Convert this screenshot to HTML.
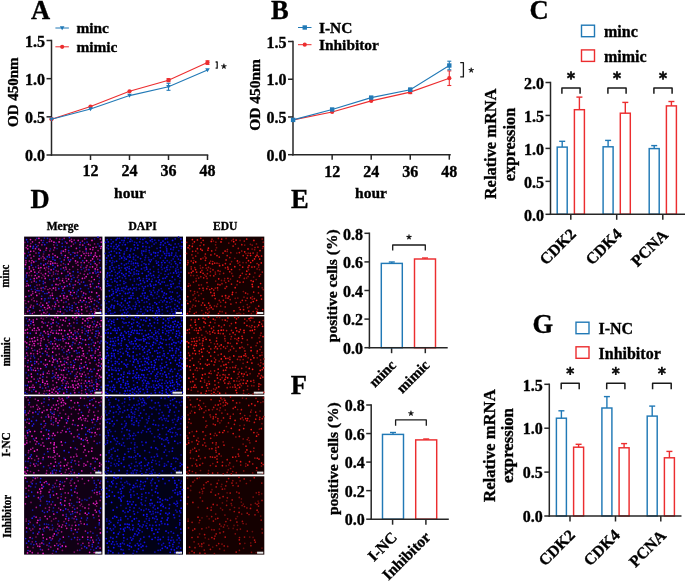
<!DOCTYPE html>
<html><head><meta charset="utf-8"><style>html,body{margin:0;padding:0;background:#fff;width:685px;height:581px;overflow:hidden}svg{display:block;will-change:transform}text{stroke:#000;stroke-width:.35px}</style></head>
<body><svg width="685" height="581" viewBox="0 0 685 581" font-family="&apos;Liberation Serif&apos;, serif" font-weight="bold"><line x1="51.5" y1="39.75" x2="51.5" y2="155.75" stroke="#262626" stroke-width="1.5"/><line x1="50.75" y1="155" x2="208.25" y2="155" stroke="#262626" stroke-width="1.5"/><line x1="46.5" y1="155.0" x2="51.5" y2="155.0" stroke="#262626" stroke-width="1.5"/><text x="45.0" y="161.2" font-size="16" text-anchor="end" fill="#000">0.0</text><line x1="46.5" y1="116.83333333333334" x2="51.5" y2="116.83333333333334" stroke="#262626" stroke-width="1.5"/><text x="45.0" y="123.03333333333335" font-size="16" text-anchor="end" fill="#000">0.5</text><line x1="46.5" y1="78.66666666666667" x2="51.5" y2="78.66666666666667" stroke="#262626" stroke-width="1.5"/><text x="45.0" y="84.86666666666667" font-size="16" text-anchor="end" fill="#000">1.0</text><line x1="46.5" y1="40.5" x2="51.5" y2="40.5" stroke="#262626" stroke-width="1.5"/><text x="45.0" y="46.7" font-size="16" text-anchor="end" fill="#000">1.5</text><line x1="90.5" y1="155" x2="90.5" y2="160" stroke="#262626" stroke-width="1.5"/><text x="90.5" y="175.6" font-size="16" text-anchor="middle" fill="#000">12</text><line x1="129.5" y1="155" x2="129.5" y2="160" stroke="#262626" stroke-width="1.5"/><text x="129.5" y="175.6" font-size="16" text-anchor="middle" fill="#000">24</text><line x1="168.5" y1="155" x2="168.5" y2="160" stroke="#262626" stroke-width="1.5"/><text x="168.5" y="175.6" font-size="16" text-anchor="middle" fill="#000">36</text><line x1="207.5" y1="155" x2="207.5" y2="160" stroke="#262626" stroke-width="1.5"/><text x="207.5" y="175.6" font-size="16" text-anchor="middle" fill="#000">48</text><text x="31" y="18.8" font-size="26.5" text-anchor="start" fill="#000">A</text><text x="18.3" y="92.2" font-size="15" text-anchor="middle" fill="#000" transform="rotate(-90 18.3 92.2)">OD 450nm</text><text x="130" y="198" font-size="15.5" text-anchor="middle" fill="#000">hour</text><polyline points="51.5,119.2 90.5,106.5 129.5,91.3 168.5,80.2 207.5,62.6" stroke="#ec2d2f" stroke-width="1.1" fill="none"/><circle cx="51.5" cy="119.2" r="2.1" fill="#ec2d2f"/><circle cx="90.5" cy="106.5" r="2.1" fill="#ec2d2f"/><circle cx="129.5" cy="91.3" r="2.1" fill="#ec2d2f"/><line x1="168.5" y1="78.7" x2="168.5" y2="81.7" stroke="#ec2d2f" stroke-width="1.1"/><line x1="166.5" y1="78.7" x2="170.5" y2="78.7" stroke="#ec2d2f" stroke-width="1.1"/><line x1="166.5" y1="81.7" x2="170.5" y2="81.7" stroke="#ec2d2f" stroke-width="1.1"/><circle cx="168.5" cy="80.2" r="2.1" fill="#ec2d2f"/><line x1="207.5" y1="60.800000000000004" x2="207.5" y2="64.4" stroke="#ec2d2f" stroke-width="1.1"/><line x1="205.5" y1="60.800000000000004" x2="209.5" y2="60.800000000000004" stroke="#ec2d2f" stroke-width="1.1"/><line x1="205.5" y1="64.4" x2="209.5" y2="64.4" stroke="#ec2d2f" stroke-width="1.1"/><circle cx="207.5" cy="62.6" r="2.1" fill="#ec2d2f"/><polyline points="51.5,119.2 90.5,109.0 129.5,95.6 168.5,86.8 207.5,70.0" stroke="#2179b6" stroke-width="1.1" fill="none"/><polygon points="49.2,117.4 53.8,117.4 51.5,121.4" fill="#2179b6"/><polygon points="88.2,107.2 92.8,107.2 90.5,111.2" fill="#2179b6"/><polygon points="127.2,93.8 131.8,93.8 129.5,97.8" fill="#2179b6"/><line x1="168.5" y1="83.3" x2="168.5" y2="90.3" stroke="#2179b6" stroke-width="1.1"/><line x1="166.5" y1="83.3" x2="170.5" y2="83.3" stroke="#2179b6" stroke-width="1.1"/><line x1="166.5" y1="90.3" x2="170.5" y2="90.3" stroke="#2179b6" stroke-width="1.1"/><polygon points="166.2,85.0 170.8,85.0 168.5,89.0" fill="#2179b6"/><polygon points="205.2,68.2 209.8,68.2 207.5,72.2" fill="#2179b6"/><line x1="55.4" y1="28.0" x2="68.9" y2="28.0" stroke="#2179b6" stroke-width="1.0"/><polygon points="59.85,26.2 64.45,26.2 62.15,30.2" fill="#2179b6"/><text x="76.4" y="33.4" font-size="15.4" text-anchor="start" fill="#000">minc</text><line x1="55.4" y1="46.8" x2="68.9" y2="46.8" stroke="#ec2d2f" stroke-width="1.0"/><circle cx="62.15" cy="46.8" r="2.1" fill="#ec2d2f"/><text x="76.4" y="52.199999999999996" font-size="15.4" text-anchor="start" fill="#000">mimic</text><path d="M215.6 62.0H217.2V68.2H215.6" stroke="#1a1a1a" stroke-width="1.3" fill="none" stroke-linejoin="round"/><path d="M223.90 66.40L223.90 64.20M223.90 66.40L225.99 65.72M223.90 66.40L225.19 68.18M223.90 66.40L222.61 68.18M223.90 66.40L221.81 65.72" stroke="#111" stroke-width="1.2" stroke-linecap="round" fill="none"/><line x1="293" y1="40.75" x2="293" y2="155.45" stroke="#262626" stroke-width="1.5"/><line x1="292.25" y1="154.7" x2="450.75" y2="154.7" stroke="#262626" stroke-width="1.5"/><line x1="288" y1="154.7" x2="293" y2="154.7" stroke="#262626" stroke-width="1.5"/><text x="286.5" y="160.89999999999998" font-size="16" text-anchor="end" fill="#000">0.0</text><line x1="288" y1="116.96666666666667" x2="293" y2="116.96666666666667" stroke="#262626" stroke-width="1.5"/><text x="286.5" y="123.16666666666667" font-size="16" text-anchor="end" fill="#000">0.5</text><line x1="288" y1="79.23333333333333" x2="293" y2="79.23333333333333" stroke="#262626" stroke-width="1.5"/><text x="286.5" y="85.43333333333334" font-size="16" text-anchor="end" fill="#000">1.0</text><line x1="288" y1="41.5" x2="293" y2="41.5" stroke="#262626" stroke-width="1.5"/><text x="286.5" y="47.7" font-size="16" text-anchor="end" fill="#000">1.5</text><line x1="332.148" y1="154.7" x2="332.148" y2="159.7" stroke="#262626" stroke-width="1.5"/><text x="332.148" y="176.6" font-size="16" text-anchor="middle" fill="#000">12</text><line x1="371.196" y1="154.7" x2="371.196" y2="159.7" stroke="#262626" stroke-width="1.5"/><text x="371.196" y="176.6" font-size="16" text-anchor="middle" fill="#000">24</text><line x1="410.244" y1="154.7" x2="410.244" y2="159.7" stroke="#262626" stroke-width="1.5"/><text x="410.244" y="176.6" font-size="16" text-anchor="middle" fill="#000">36</text><line x1="449.29200000000003" y1="154.7" x2="449.29200000000003" y2="159.7" stroke="#262626" stroke-width="1.5"/><text x="449.29200000000003" y="176.6" font-size="16" text-anchor="middle" fill="#000">48</text><text x="271" y="19" font-size="26.5" text-anchor="start" fill="#000">B</text><text x="260.3" y="94.9" font-size="15.5" text-anchor="middle" fill="#000" transform="rotate(-90 260.3 94.9)">OD 450nm</text><text x="371" y="198" font-size="15.5" text-anchor="middle" fill="#000">hour</text><polyline points="293.1,119.9 332.148,112.0 371.196,100.9 410.244,92.1 449.29200000000003,78.2" stroke="#ec2d2f" stroke-width="1.1" fill="none"/><circle cx="293.1" cy="119.9" r="2.1" fill="#ec2d2f"/><circle cx="332.148" cy="112.0" r="2.1" fill="#ec2d2f"/><circle cx="371.196" cy="100.9" r="2.1" fill="#ec2d2f"/><line x1="410.244" y1="90.6" x2="410.244" y2="93.6" stroke="#ec2d2f" stroke-width="1.1"/><line x1="408.244" y1="90.6" x2="412.244" y2="90.6" stroke="#ec2d2f" stroke-width="1.1"/><line x1="408.244" y1="93.6" x2="412.244" y2="93.6" stroke="#ec2d2f" stroke-width="1.1"/><circle cx="410.244" cy="92.1" r="2.1" fill="#ec2d2f"/><line x1="449.29200000000003" y1="70.9" x2="449.29200000000003" y2="85.5" stroke="#ec2d2f" stroke-width="1.1"/><line x1="447.29200000000003" y1="70.9" x2="451.29200000000003" y2="70.9" stroke="#ec2d2f" stroke-width="1.1"/><line x1="447.29200000000003" y1="85.5" x2="451.29200000000003" y2="85.5" stroke="#ec2d2f" stroke-width="1.1"/><circle cx="449.29200000000003" cy="78.2" r="2.1" fill="#ec2d2f"/><polyline points="293.1,119.9 332.148,109.5 371.196,97.6 410.244,89.7 449.29200000000003,65.5" stroke="#2179b6" stroke-width="1.1" fill="none"/><rect x="290.90000000000003" y="117.7" width="4.4" height="4.4" fill="#2179b6"/><rect x="329.94800000000004" y="107.3" width="4.4" height="4.4" fill="#2179b6"/><rect x="368.99600000000004" y="95.39999999999999" width="4.4" height="4.4" fill="#2179b6"/><line x1="410.244" y1="88.2" x2="410.244" y2="91.2" stroke="#2179b6" stroke-width="1.1"/><line x1="408.244" y1="88.2" x2="412.244" y2="88.2" stroke="#2179b6" stroke-width="1.1"/><line x1="408.244" y1="91.2" x2="412.244" y2="91.2" stroke="#2179b6" stroke-width="1.1"/><rect x="408.04400000000004" y="87.5" width="4.4" height="4.4" fill="#2179b6"/><line x1="449.29200000000003" y1="61.2" x2="449.29200000000003" y2="69.8" stroke="#2179b6" stroke-width="1.1"/><line x1="447.29200000000003" y1="61.2" x2="451.29200000000003" y2="61.2" stroke="#2179b6" stroke-width="1.1"/><line x1="447.29200000000003" y1="69.8" x2="451.29200000000003" y2="69.8" stroke="#2179b6" stroke-width="1.1"/><rect x="447.09200000000004" y="63.3" width="4.4" height="4.4" fill="#2179b6"/><line x1="298" y1="27.5" x2="311.5" y2="27.5" stroke="#2179b6" stroke-width="1.0"/><rect x="302.55" y="25.3" width="4.4" height="4.4" fill="#2179b6"/><text x="319" y="32.9" font-size="15.4" text-anchor="start" fill="#000">I-NC</text><line x1="298" y1="44.7" x2="311.5" y2="44.7" stroke="#ec2d2f" stroke-width="1.0"/><circle cx="304.75" cy="44.7" r="2.1" fill="#ec2d2f"/><text x="319" y="50.1" font-size="15.4" text-anchor="start" fill="#000">Inhibitor</text><path d="M460.2 62.7H463.4V76.9H460.2" stroke="#1a1a1a" stroke-width="1.3" fill="none" stroke-linejoin="round"/><path d="M471.20 70.20L471.20 68.00M471.20 70.20L473.29 69.52M471.20 70.20L472.49 71.98M471.20 70.20L469.91 71.98M471.20 70.20L469.11 69.52" stroke="#111" stroke-width="1.2" stroke-linecap="round" fill="none"/><line x1="545.5" y1="214.3" x2="550.5" y2="214.3" stroke="#262626" stroke-width="1.5"/><text x="544.0" y="220.5" font-size="16" text-anchor="end" fill="#000">0.0</text><line x1="545.5" y1="181.35000000000002" x2="550.5" y2="181.35000000000002" stroke="#262626" stroke-width="1.5"/><text x="544.0" y="187.55" font-size="16" text-anchor="end" fill="#000">0.5</text><line x1="545.5" y1="148.4" x2="550.5" y2="148.4" stroke="#262626" stroke-width="1.5"/><text x="544.0" y="154.6" font-size="16" text-anchor="end" fill="#000">1.0</text><line x1="545.5" y1="115.45" x2="550.5" y2="115.45" stroke="#262626" stroke-width="1.5"/><text x="544.0" y="121.65" font-size="16" text-anchor="end" fill="#000">1.5</text><line x1="545.5" y1="82.5" x2="550.5" y2="82.5" stroke="#262626" stroke-width="1.5"/><text x="544.0" y="88.7" font-size="16" text-anchor="end" fill="#000">2.0</text><line x1="570.8" y1="214.3" x2="570.8" y2="219.8" stroke="#262626" stroke-width="1.5"/><line x1="616.7" y1="214.3" x2="616.7" y2="219.8" stroke="#262626" stroke-width="1.5"/><line x1="662.8" y1="214.3" x2="662.8" y2="219.8" stroke="#262626" stroke-width="1.5"/><line x1="562.1999999999999" y1="147.1" x2="562.1999999999999" y2="141.3" stroke="#2179b6" stroke-width="1.4"/><line x1="559.1999999999999" y1="141.3" x2="565.1999999999999" y2="141.3" stroke="#2179b6" stroke-width="1.4"/><rect x="557.1999999999999" y="147.1" width="10" height="67.20000000000002" fill="none" stroke="#2179b6" stroke-width="1.45"/><line x1="579.4" y1="109.7" x2="579.4" y2="97.1" stroke="#ec2d2f" stroke-width="1.4"/><line x1="576.4" y1="97.1" x2="582.4" y2="97.1" stroke="#ec2d2f" stroke-width="1.4"/><rect x="574.4" y="109.7" width="10" height="104.60000000000001" fill="none" stroke="#ec2d2f" stroke-width="1.45"/><line x1="608.1" y1="146.8" x2="608.1" y2="140.4" stroke="#2179b6" stroke-width="1.4"/><line x1="605.1" y1="140.4" x2="611.1" y2="140.4" stroke="#2179b6" stroke-width="1.4"/><rect x="603.1" y="146.8" width="10" height="67.5" fill="none" stroke="#2179b6" stroke-width="1.45"/><line x1="625.3000000000001" y1="113.2" x2="625.3000000000001" y2="102.4" stroke="#ec2d2f" stroke-width="1.4"/><line x1="622.3000000000001" y1="102.4" x2="628.3000000000001" y2="102.4" stroke="#ec2d2f" stroke-width="1.4"/><rect x="620.3000000000001" y="113.2" width="10" height="101.10000000000001" fill="none" stroke="#ec2d2f" stroke-width="1.45"/><line x1="654.1999999999999" y1="148.6" x2="654.1999999999999" y2="145.6" stroke="#2179b6" stroke-width="1.4"/><line x1="651.1999999999999" y1="145.6" x2="657.1999999999999" y2="145.6" stroke="#2179b6" stroke-width="1.4"/><rect x="649.1999999999999" y="148.6" width="10" height="65.70000000000002" fill="none" stroke="#2179b6" stroke-width="1.45"/><line x1="671.4" y1="105.9" x2="671.4" y2="101.5" stroke="#ec2d2f" stroke-width="1.4"/><line x1="668.4" y1="101.5" x2="674.4" y2="101.5" stroke="#ec2d2f" stroke-width="1.4"/><rect x="666.4" y="105.9" width="10" height="108.4" fill="none" stroke="#ec2d2f" stroke-width="1.45"/><line x1="550.5" y1="81.75" x2="550.5" y2="215.05" stroke="#262626" stroke-width="1.5"/><line x1="549.75" y1="214.3" x2="685" y2="214.3" stroke="#262626" stroke-width="1.5"/><path d="M561.9 93.8V87.9H580.1V93.8" stroke="#1a1a1a" stroke-width="1.5" fill="none" stroke-linejoin="round"/><path d="M571.00 71.20L571.00 79.80M567.28 73.35L574.72 77.65M574.72 73.35L567.28 77.65" stroke="#111" stroke-width="1.8" stroke-linecap="butt" fill="none"/><path d="M607.9 93.8V87.9H626.1V93.8" stroke="#1a1a1a" stroke-width="1.5" fill="none" stroke-linejoin="round"/><path d="M617.00 71.20L617.00 79.80M613.28 73.35L620.72 77.65M620.72 73.35L613.28 77.65" stroke="#111" stroke-width="1.8" stroke-linecap="butt" fill="none"/><path d="M653.9 93.8V87.9H672.1V93.8" stroke="#1a1a1a" stroke-width="1.5" fill="none" stroke-linejoin="round"/><path d="M663.00 71.20L663.00 79.80M659.28 73.35L666.72 77.65M666.72 73.35L659.28 77.65" stroke="#111" stroke-width="1.8" stroke-linecap="butt" fill="none"/><text x="576.8" y="235" font-size="16" text-anchor="end" fill="#000" transform="rotate(-45 576.8 235)">CDK2</text><text x="622.8" y="235" font-size="16" text-anchor="end" fill="#000" transform="rotate(-45 622.8 235)">CDK4</text><text x="668.8" y="236" font-size="16" text-anchor="end" fill="#000" transform="rotate(-45 668.8 236)">PCNA</text><text x="529.5" y="18.7" font-size="26.5" text-anchor="start" fill="#000">C</text><text x="496.5" y="143.9" font-size="16.4" text-anchor="middle" fill="#000" transform="rotate(-90 496.5 143.9)">Relative mRNA</text><text x="515" y="144.45" font-size="16.4" text-anchor="middle" fill="#000" transform="rotate(-90 515 144.45)">expression</text><rect x="581.5" y="25.2" width="13" height="11.5" fill="none" stroke="#2179b6" stroke-width="1.4"/><text x="604.0" y="37.2" font-size="16" text-anchor="start" fill="#000">minc</text><rect x="581.5" y="49.9" width="13" height="11.5" fill="none" stroke="#ec2d2f" stroke-width="1.4"/><text x="604.0" y="61.9" font-size="16" text-anchor="start" fill="#000">mimic</text><line x1="544.3" y1="516.0" x2="549.3" y2="516.0" stroke="#262626" stroke-width="1.5"/><text x="542.8" y="522.2" font-size="16" text-anchor="end" fill="#000">0.0</text><line x1="544.3" y1="472.1" x2="549.3" y2="472.1" stroke="#262626" stroke-width="1.5"/><text x="542.8" y="478.3" font-size="16" text-anchor="end" fill="#000">0.5</text><line x1="544.3" y1="428.2" x2="549.3" y2="428.2" stroke="#262626" stroke-width="1.5"/><text x="542.8" y="434.4" font-size="16" text-anchor="end" fill="#000">1.0</text><line x1="544.3" y1="384.3" x2="549.3" y2="384.3" stroke="#262626" stroke-width="1.5"/><text x="542.8" y="390.5" font-size="16" text-anchor="end" fill="#000">1.5</text><line x1="570" y1="516" x2="570" y2="521.5" stroke="#262626" stroke-width="1.5"/><line x1="615.5" y1="516" x2="615.5" y2="521.5" stroke="#262626" stroke-width="1.5"/><line x1="660.8" y1="516" x2="660.8" y2="521.5" stroke="#262626" stroke-width="1.5"/><line x1="561.4" y1="418.2" x2="561.4" y2="410.8" stroke="#2179b6" stroke-width="1.4"/><line x1="558.4" y1="410.8" x2="564.4" y2="410.8" stroke="#2179b6" stroke-width="1.4"/><rect x="556.4" y="418.2" width="10" height="97.80000000000001" fill="none" stroke="#2179b6" stroke-width="1.45"/><line x1="578.6" y1="447.2" x2="578.6" y2="444.3" stroke="#ec2d2f" stroke-width="1.4"/><line x1="575.6" y1="444.3" x2="581.6" y2="444.3" stroke="#ec2d2f" stroke-width="1.4"/><rect x="573.6" y="447.2" width="10" height="68.80000000000001" fill="none" stroke="#ec2d2f" stroke-width="1.45"/><line x1="606.9" y1="408" x2="606.9" y2="396.6" stroke="#2179b6" stroke-width="1.4"/><line x1="603.9" y1="396.6" x2="609.9" y2="396.6" stroke="#2179b6" stroke-width="1.4"/><rect x="601.9" y="408" width="10" height="108" fill="none" stroke="#2179b6" stroke-width="1.45"/><line x1="624.1" y1="447.8" x2="624.1" y2="443.6" stroke="#ec2d2f" stroke-width="1.4"/><line x1="621.1" y1="443.6" x2="627.1" y2="443.6" stroke="#ec2d2f" stroke-width="1.4"/><rect x="619.1" y="447.8" width="10" height="68.19999999999999" fill="none" stroke="#ec2d2f" stroke-width="1.45"/><line x1="652.1999999999999" y1="416.1" x2="652.1999999999999" y2="406.1" stroke="#2179b6" stroke-width="1.4"/><line x1="649.1999999999999" y1="406.1" x2="655.1999999999999" y2="406.1" stroke="#2179b6" stroke-width="1.4"/><rect x="647.1999999999999" y="416.1" width="10" height="99.89999999999998" fill="none" stroke="#2179b6" stroke-width="1.45"/><line x1="669.4" y1="457.8" x2="669.4" y2="451.4" stroke="#ec2d2f" stroke-width="1.4"/><line x1="666.4" y1="451.4" x2="672.4" y2="451.4" stroke="#ec2d2f" stroke-width="1.4"/><rect x="664.4" y="457.8" width="10" height="58.19999999999999" fill="none" stroke="#ec2d2f" stroke-width="1.45"/><line x1="549.3" y1="383.55" x2="549.3" y2="516.75" stroke="#262626" stroke-width="1.5"/><line x1="548.55" y1="516" x2="681.5" y2="516" stroke="#262626" stroke-width="1.5"/><path d="M561.2 389.3V383.3H579.2V389.3" stroke="#1a1a1a" stroke-width="1.5" fill="none" stroke-linejoin="round"/><path d="M570.20 366.70L570.20 375.10M566.56 368.80L573.84 373.00M573.84 368.80L566.56 373.00" stroke="#111" stroke-width="1.8" stroke-linecap="butt" fill="none"/><path d="M606.7 389.3V383.3H624.9V389.3" stroke="#1a1a1a" stroke-width="1.5" fill="none" stroke-linejoin="round"/><path d="M615.80 366.70L615.80 375.10M612.16 368.80L619.44 373.00M619.44 368.80L612.16 373.00" stroke="#111" stroke-width="1.8" stroke-linecap="butt" fill="none"/><path d="M652.6 389.3V383.3H671.2V389.3" stroke="#1a1a1a" stroke-width="1.5" fill="none" stroke-linejoin="round"/><path d="M661.90 366.70L661.90 375.10M658.26 368.80L665.54 373.00M665.54 368.80L658.26 373.00" stroke="#111" stroke-width="1.8" stroke-linecap="butt" fill="none"/><text x="575.8" y="536" font-size="16" text-anchor="end" fill="#000" transform="rotate(-45 575.8 536)">CDK2</text><text x="620.8" y="536" font-size="16" text-anchor="end" fill="#000" transform="rotate(-45 620.8 536)">CDK4</text><text x="666.8" y="536.5" font-size="16" text-anchor="end" fill="#000" transform="rotate(-45 666.8 536.5)">PCNA</text><text x="532.5" y="333.3" font-size="26.5" text-anchor="start" fill="#000">G</text><text x="495.3" y="445.6" font-size="16.7" text-anchor="middle" fill="#000" transform="rotate(-90 495.3 445.6)">Relative mRNA</text><text x="513.4" y="445.5" font-size="16.7" text-anchor="middle" fill="#000" transform="rotate(-90 513.4 445.5)">expression</text><rect x="576" y="322.2" width="13" height="11.5" fill="none" stroke="#2179b6" stroke-width="1.4"/><text x="598.5" y="334.2" font-size="16" text-anchor="start" fill="#000">I-NC</text><rect x="576" y="346.8" width="13" height="11.5" fill="none" stroke="#ec2d2f" stroke-width="1.4"/><text x="598.5" y="358.8" font-size="16" text-anchor="start" fill="#000">Inhibitor</text><line x1="364.4" y1="347.7" x2="369.4" y2="347.7" stroke="#262626" stroke-width="1.5"/><text x="362.9" y="353.9" font-size="16" text-anchor="end" fill="#000">0.0</text><line x1="364.4" y1="319.1" x2="369.4" y2="319.1" stroke="#262626" stroke-width="1.5"/><text x="362.9" y="325.3" font-size="16" text-anchor="end" fill="#000">0.2</text><line x1="364.4" y1="290.5" x2="369.4" y2="290.5" stroke="#262626" stroke-width="1.5"/><text x="362.9" y="296.7" font-size="16" text-anchor="end" fill="#000">0.4</text><line x1="364.4" y1="261.9" x2="369.4" y2="261.9" stroke="#262626" stroke-width="1.5"/><text x="362.9" y="268.09999999999997" font-size="16" text-anchor="end" fill="#000">0.6</text><line x1="364.4" y1="233.3" x2="369.4" y2="233.3" stroke="#262626" stroke-width="1.5"/><text x="362.9" y="239.5" font-size="16" text-anchor="end" fill="#000">0.8</text><line x1="391.6" y1="347.7" x2="391.6" y2="353.2" stroke="#262626" stroke-width="1.5"/><line x1="425.3" y1="347.7" x2="425.3" y2="353.2" stroke="#262626" stroke-width="1.5"/><line x1="391.8" y1="263.4" x2="391.8" y2="262" stroke="#2179b6" stroke-width="1.4"/><line x1="388.8" y1="262" x2="394.8" y2="262" stroke="#2179b6" stroke-width="1.4"/><rect x="381.3" y="263.4" width="21" height="84.30000000000001" fill="none" stroke="#2179b6" stroke-width="1.45"/><line x1="425.0" y1="259" x2="425.0" y2="258" stroke="#ec2d2f" stroke-width="1.4"/><line x1="422.0" y1="258" x2="428.0" y2="258" stroke="#ec2d2f" stroke-width="1.4"/><rect x="414.5" y="259" width="21" height="88.69999999999999" fill="none" stroke="#ec2d2f" stroke-width="1.45"/><line x1="369.4" y1="232.55" x2="369.4" y2="348.45" stroke="#262626" stroke-width="1.5"/><line x1="368.65" y1="347.7" x2="447.7" y2="347.7" stroke="#262626" stroke-width="1.5"/><path d="M392.7 250.5V245.0H425.3V250.5" stroke="#1a1a1a" stroke-width="1.3" fill="none" stroke-linejoin="round"/><path d="M409.00 237.10L409.00 234.90M409.00 237.10L411.09 236.42M409.00 237.10L410.29 238.88M409.00 237.10L407.71 238.88M409.00 237.10L406.91 236.42" stroke="#111" stroke-width="1.2" stroke-linecap="round" fill="none"/><text x="397" y="366" font-size="14.8" text-anchor="end" fill="#000" transform="rotate(-45 397 366)">minc</text><text x="430.5" y="366" font-size="14.8" text-anchor="end" fill="#000" transform="rotate(-45 430.5 366)">mimic</text><text x="291" y="208.1" font-size="26.5" text-anchor="start" fill="#000">E</text><text x="336.7" y="285.8" font-size="15.5" text-anchor="middle" fill="#000" transform="rotate(-90 336.7 285.8)">positive cells (%)</text><line x1="366.2" y1="519.2" x2="371.2" y2="519.2" stroke="#262626" stroke-width="1.5"/><text x="364.7" y="525.4000000000001" font-size="16" text-anchor="end" fill="#000">0.0</text><line x1="366.2" y1="490.65000000000003" x2="371.2" y2="490.65000000000003" stroke="#262626" stroke-width="1.5"/><text x="364.7" y="496.85" font-size="16" text-anchor="end" fill="#000">0.2</text><line x1="366.2" y1="462.1" x2="371.2" y2="462.1" stroke="#262626" stroke-width="1.5"/><text x="364.7" y="468.3" font-size="16" text-anchor="end" fill="#000">0.4</text><line x1="366.2" y1="433.55" x2="371.2" y2="433.55" stroke="#262626" stroke-width="1.5"/><text x="364.7" y="439.75" font-size="16" text-anchor="end" fill="#000">0.6</text><line x1="366.2" y1="405.0" x2="371.2" y2="405.0" stroke="#262626" stroke-width="1.5"/><text x="364.7" y="411.2" font-size="16" text-anchor="end" fill="#000">0.8</text><line x1="392.6" y1="519.2" x2="392.6" y2="524.7" stroke="#262626" stroke-width="1.5"/><line x1="425.9" y1="519.2" x2="425.9" y2="524.7" stroke="#262626" stroke-width="1.5"/><line x1="393" y1="434.4" x2="393" y2="432.5" stroke="#2179b6" stroke-width="1.4"/><line x1="390" y1="432.5" x2="396" y2="432.5" stroke="#2179b6" stroke-width="1.4"/><rect x="382.5" y="434.4" width="21" height="84.80000000000007" fill="none" stroke="#2179b6" stroke-width="1.45"/><line x1="426.2" y1="439.9" x2="426.2" y2="439" stroke="#ec2d2f" stroke-width="1.4"/><line x1="423.2" y1="439" x2="429.2" y2="439" stroke="#ec2d2f" stroke-width="1.4"/><rect x="415.7" y="439.9" width="21" height="79.30000000000007" fill="none" stroke="#ec2d2f" stroke-width="1.45"/><line x1="371.2" y1="404.25" x2="371.2" y2="519.95" stroke="#262626" stroke-width="1.5"/><line x1="370.45" y1="519.2" x2="448.8" y2="519.2" stroke="#262626" stroke-width="1.5"/><path d="M395.6 425.7V419.8H426.3V425.7" stroke="#1a1a1a" stroke-width="1.3" fill="none" stroke-linejoin="round"/><path d="M410.95 413.40L410.95 411.20M410.95 413.40L413.04 412.72M410.95 413.40L412.24 415.18M410.95 413.40L409.66 415.18M410.95 413.40L408.86 412.72" stroke="#111" stroke-width="1.2" stroke-linecap="round" fill="none"/><text x="398" y="538.3" font-size="15.6" text-anchor="end" fill="#000" transform="rotate(-45 398 538.3)">I-NC</text><text x="431.5" y="538" font-size="15.6" text-anchor="end" fill="#000" transform="rotate(-45 431.5 538)">Inhibitor</text><text x="290.8" y="394" font-size="26.5" text-anchor="start" fill="#000">F</text><text x="338" y="458.7" font-size="15.5" text-anchor="middle" fill="#000" transform="rotate(-90 338 458.7)">positive cells (%)</text><text x="30.5" y="208.3" font-size="26.5" text-anchor="start" fill="#000">D</text><text x="62.7" y="230" font-size="11.5" text-anchor="middle" fill="#000">Merge</text><text x="142.6" y="230" font-size="11.5" text-anchor="middle" fill="#000">DAPI</text><text x="225.2" y="230" font-size="11.5" text-anchor="middle" fill="#000">EDU</text><text font-size="12" text-anchor="middle" transform="translate(9.2 276) rotate(-90) scale(0.9 1)">minc</text><text font-size="12" text-anchor="middle" transform="translate(9.9 351.8) rotate(-90) scale(0.9 1)">mimic</text><text font-size="12" text-anchor="middle" transform="translate(10.2 444.5) rotate(-90) scale(0.95 1)">I-NC</text><text font-size="12" text-anchor="middle" transform="translate(10.5 516.2) rotate(-90) scale(0.92 1)">Inhibitor</text><rect x="24.1" y="236.6" width="78.3" height="78.3" fill="#100014"/><path d="M96.0 273.1h0M65.4 241.8h0M39.4 255.9h0M101.6 314.0h0M89.5 291.8h0M47.0 242.6h0M98.6 302.5h0M30.3 285.7h0M43.4 283.6h0M30.5 279.3h0M94.2 304.4h0M49.0 301.9h0M61.3 251.0h0M90.7 264.1h0M87.1 242.1h0M64.5 293.0h0M47.1 293.4h0M74.0 277.5h0M98.5 308.4h0M99.4 246.1h0M78.3 296.4h0M42.6 310.0h0M52.9 259.2h0M47.5 238.3h0M31.4 289.3h0M67.2 285.9h0M40.9 263.7h0M82.1 301.9h0M49.8 279.5h0M84.5 243.1h0M55.2 267.1h0M39.7 280.7h0M26.4 277.0h0M74.7 256.1h0M69.7 307.3h0M49.5 257.2h0M35.6 244.5h0M73.1 252.5h0M43.3 281.4h0M35.7 267.0h0M68.6 250.6h0M64.8 257.5h0M72.8 290.3h0M83.1 295.2h0M82.7 260.7h0M42.9 242.5h0M58.7 277.9h0M27.7 255.8h0M55.0 302.2h0M76.1 310.8h0M36.3 282.1h0M78.8 279.9h0M97.4 296.7h0M73.1 285.1h0M86.4 301.9h0M25.4 268.5h0M29.1 296.1h0M66.1 301.9h0M44.8 293.5h0M47.3 256.7h0M62.2 243.3h0M90.9 309.3h0M26.3 275.0h0M68.5 259.9h0M89.9 273.1h0M61.8 286.6h0M39.0 290.7h0" stroke="#1d19ca" stroke-width="1.7" stroke-linecap="round"/><path d="M100.4 311.6h0M100.3 267.8h0M43.1 291.5h0M70.7 259.8h0M26.0 258.0h0M78.7 311.4h0M49.3 314.3h0M56.9 298.2h0M72.1 308.2h0M73.2 271.6h0M45.7 263.9h0M72.1 295.5h0M41.1 306.6h0M48.7 266.6h0M89.9 306.6h0M68.1 275.1h0M61.4 261.7h0M52.1 285.0h0M53.7 269.1h0M94.3 261.6h0M44.7 244.7h0M88.9 269.7h0M38.9 252.9h0M29.5 310.6h0M80.4 242.6h0M58.8 288.7h0M85.2 285.4h0M95.1 271.0h0M52.9 265.2h0M98.5 286.6h0M70.6 254.5h0M79.7 283.9h0M36.8 246.8h0M69.1 290.9h0M76.0 304.0h0M98.0 237.2h0M92.5 313.9h0M45.0 298.8h0M37.0 290.5h0M55.0 260.2h0M79.8 257.9h0M80.6 288.6h0M99.9 260.2h0M77.1 255.3h0M78.3 290.1h0M37.2 304.0h0M69.8 309.8h0M62.3 246.5h0M52.9 257.2h0M32.9 248.2h0M72.2 305.6h0M77.9 272.1h0M67.0 307.0h0M31.5 265.2h0M33.3 308.0h0M69.4 237.6h0M33.4 246.3h0M62.8 290.4h0M83.7 282.1h0M45.7 259.2h0M71.7 279.1h0M27.0 281.2h0M26.6 239.7h0M43.1 287.7h0M97.9 272.2h0" stroke="#221eeb" stroke-width="1.7" stroke-linecap="round"/><path d="M36.8 238.4h0M60.0 258.6h0M83.8 268.1h0M86.2 250.9h0M34.8 286.8h0M43.9 251.8h0M92.7 283.7h0M57.2 245.2h0M44.5 300.7h0M68.8 247.3h0M26.1 307.4h0M61.9 293.5h0M101.3 305.0h0M61.8 255.0h0M44.4 238.1h0M94.5 288.1h0M72.9 275.3h0M48.5 298.2h0M62.3 239.4h0M50.5 297.9h0M97.9 243.8h0M99.4 277.6h0M66.0 276.0h0M90.8 255.1h0M85.6 246.9h0M49.9 273.2h0M64.4 270.4h0M28.6 252.3h0M99.3 281.0h0M37.0 273.6h0M43.6 240.5h0M65.1 309.5h0M65.4 246.8h0M70.3 286.0h0M27.7 241.9h0M87.1 285.3h0M41.7 296.2h0M88.4 288.6h0M57.1 248.5h0M66.9 311.0h0M53.7 278.8h0M77.0 291.8h0M56.1 242.8h0M76.5 294.1h0M86.7 238.5h0M60.9 268.9h0M62.2 313.9h0M79.7 247.6h0M54.4 308.8h0M36.0 261.2h0M60.3 309.1h0M94.6 238.8h0M55.7 273.8h0M24.8 279.1h0M71.0 281.4h0M97.0 301.1h0M30.2 313.4h0M81.5 265.0h0M81.5 269.5h0M50.4 248.9h0M75.4 242.7h0M65.3 264.5h0M35.2 289.5h0" stroke="#1715a4" stroke-width="1.7" stroke-linecap="round"/><path d="M59.6 280.4h0M73.3 298.3h0M31.7 299.6h0M58.7 302.2h0M39.4 293.6h0M41.1 258.0h0M31.6 282.1h0M53.4 272.1h0M98.6 274.5h0M38.3 265.6h0M52.6 305.9h0M35.5 239.9h0M51.8 290.0h0M81.4 282.0h0M78.5 275.5h0M40.0 270.4h0M46.0 250.2h0M59.8 239.1h0M86.9 311.1h0M94.6 243.9h0M92.5 298.6h0M66.1 298.2h0M41.8 277.8h0M40.8 302.8h0M68.9 252.7h0M87.6 306.6h0M39.5 284.8h0M89.5 313.6h0M82.1 297.2h0M76.1 263.2h0M53.7 244.8h0M28.2 308.9h0M57.8 274.0h0M80.4 273.3h0M82.8 251.8h0M45.6 270.0h0M53.5 274.1h0M30.8 243.6h0M52.3 293.2h0M95.5 309.7h0M89.2 280.6h0M62.8 278.6h0M86.6 269.7h0M53.7 250.1h0M47.2 312.0h0M29.5 272.6h0M45.9 313.5h0M24.8 300.5h0M48.7 261.2h0M32.9 267.6h0M25.5 313.7h0M47.7 263.2h0M56.5 238.4h0M51.9 275.8h0M56.2 270.7h0M43.5 260.3h0M39.5 305.1h0M75.9 298.1h0M63.7 302.4h0M77.5 277.3h0M42.9 274.9h0M41.2 273.3h0M101.3 289.6h0M31.1 305.2h0M41.4 290.3h0M73.5 244.1h0M37.6 288.5h0M28.9 275.4h0M44.9 288.7h0M99.4 262.9h0M37.0 285.1h0M49.8 250.9h0M44.3 276.3h0M77.7 269.5h0M46.6 267.4h0M38.2 245.5h0M90.6 296.6h0M48.6 268.7h0M96.7 267.1h0M57.1 263.5h0M60.9 265.1h0M25.9 303.5h0M33.3 298.0h0M90.3 245.2h0M91.3 311.5h0M74.3 302.6h0M88.8 262.5h0M84.9 271.2h0M94.0 308.4h0M65.3 251.4h0M24.8 242.4h0M43.5 254.0h0M56.6 313.5h0M51.1 309.0h0M45.7 309.6h0M60.1 283.7h0M63.9 313.1h0M97.8 259.1h0M31.6 275.6h0M63.5 263.6h0" stroke="#7e0f69" stroke-width="1.7" stroke-linecap="round"/><path d="M63.9 282.5h0M32.0 260.6h0M78.2 240.4h0M63.2 288.3h0M49.0 254.9h0M24.7 253.4h0M84.7 258.0h0M99.0 295.6h0M32.5 241.8h0M33.7 269.6h0M90.6 286.7h0M32.4 313.5h0M84.3 262.6h0M38.8 249.1h0M39.9 310.5h0M27.7 311.4h0M30.0 254.8h0M95.4 252.9h0M100.3 287.8h0M69.6 284.1h0M58.8 306.0h0M69.7 261.6h0M100.4 272.1h0M88.7 255.5h0M34.7 272.2h0M74.9 253.0h0M35.5 248.7h0M77.7 262.0h0M90.3 284.4h0M55.8 290.0h0M39.3 242.6h0M60.3 296.2h0M75.6 281.1h0M44.5 268.2h0M97.6 269.6h0M54.8 306.4h0M99.7 256.0h0M71.2 246.1h0M84.0 253.6h0M57.7 265.7h0M46.5 248.2h0M66.7 281.0h0M55.1 263.2h0M90.5 299.3h0M81.8 313.6h0M29.3 261.0h0M27.5 245.6h0M95.2 263.6h0M53.3 298.6h0M31.1 258.0h0M90.8 260.6h0M88.5 244.3h0M38.6 268.2h0M35.6 292.2h0M66.9 243.1h0M76.4 248.4h0M63.5 267.8h0M28.7 290.8h0M69.8 240.7h0M48.4 275.6h0M61.1 253.1h0M47.5 308.3h0M29.4 268.9h0M100.7 248.3h0M52.8 263.2h0M96.9 264.9h0M69.9 273.4h0M48.9 292.4h0M55.7 304.1h0M101.3 242.2h0M57.4 300.4h0M34.3 281.0h0M36.8 278.1h0M28.5 301.6h0M44.1 258.0h0M82.8 245.1h0M54.6 247.7h0M61.4 300.3h0M41.6 298.8h0M95.1 255.2h0M96.6 286.9h0" stroke="#c918a8" stroke-width="1.7" stroke-linecap="round"/><path d="M38.9 276.7h0M27.0 273.0h0M64.7 286.6h0M99.6 299.1h0M48.1 305.4h0M40.9 267.6h0M81.7 309.7h0M59.1 241.9h0M81.5 306.6h0M31.2 295.0h0M40.3 250.3h0M92.6 266.8h0M35.2 275.5h0M30.5 239.6h0M92.0 240.4h0M96.6 292.9h0M80.4 300.3h0M74.2 292.5h0M49.4 307.4h0M31.1 271.2h0M67.1 296.4h0M45.5 273.7h0M65.5 249.5h0M93.1 247.5h0M77.3 307.5h0M63.7 295.7h0M44.6 307.5h0M25.5 264.6h0M100.3 239.0h0M71.8 241.7h0M36.8 295.4h0M30.4 307.0h0M81.3 255.6h0M43.9 312.7h0M30.4 246.4h0M57.4 257.1h0M86.6 260.7h0M43.8 265.1h0M92.6 258.9h0M95.2 268.9h0M39.0 258.9h0M91.7 277.0h0M45.2 278.4h0M61.7 273.3h0M60.3 311.7h0M83.8 300.5h0M64.0 298.0h0M94.3 279.5h0M67.9 257.6h0M94.8 313.7h0M75.5 260.9h0M98.7 283.5h0M65.3 255.6h0M34.2 278.6h0M96.7 312.5h0M53.4 288.2h0M63.2 251.1h0M85.3 298.2h0M70.7 292.3h0M68.6 279.1h0M88.8 297.9h0M93.0 272.9h0M91.2 253.0h0M83.7 293.0h0M55.1 255.6h0M27.8 248.8h0M29.3 266.8h0M51.1 269.8h0M62.5 280.7h0M82.4 278.4h0M38.9 238.3h0M101.3 246.5h0M96.7 256.6h0M30.7 251.3h0M52.4 295.3h0M86.2 276.6h0M91.8 292.1h0M86.1 248.9h0M91.4 301.5h0M50.9 261.5h0M46.8 303.1h0M93.7 256.6h0M78.8 314.1h0M90.2 249.1h0M56.0 284.4h0M63.3 306.9h0M28.4 285.4h0M33.8 261.9h0M68.3 264.1h0M50.6 263.9h0M25.9 296.6h0M42.8 305.2h0M54.0 242.2h0M51.5 241.0h0M56.8 278.8h0" stroke="#ea1cc4" stroke-width="1.7" stroke-linecap="round"/><path d="M75.1 284.7h0M90.0 267.0h0M31.4 262.8h0M33.8 256.2h0M67.8 271.7h0M69.0 304.0h0M94.7 300.3h0M78.0 282.3h0M26.3 286.2h0M81.5 291.5h0M85.9 307.7h0M91.3 281.4h0M72.9 266.7h0M80.8 267.1h0M27.0 283.6h0M47.9 289.5h0M49.9 288.5h0M89.2 302.6h0M26.2 247.7h0M73.3 287.7h0M77.5 252.6h0M79.8 251.0h0M53.8 281.1h0M71.4 239.3h0M66.2 269.1h0M96.0 247.2h0M84.8 239.0h0M32.8 293.6h0M41.5 314.2h0M78.7 302.3h0M38.7 272.2h0M64.2 238.4h0M70.9 276.1h0M65.8 267.2h0M82.4 241.1h0M69.6 269.5h0M84.7 278.1h0M33.5 306.0h0M87.1 265.6h0M75.1 313.5h0M41.1 288.2h0M96.8 306.2h0M87.7 274.2h0M79.9 244.7h0M88.4 253.3h0M36.8 301.3h0M86.3 253.1h0M81.1 262.6h0M26.1 262.7h0M34.3 312.3h0M34.2 300.8h0M100.8 309.6h0M74.2 240.1h0M49.4 241.4h0M95.0 311.7h0M78.4 309.5h0M46.0 286.5h0M98.1 250.6h0M58.2 271.3h0M85.7 255.5h0M45.1 282.6h0M52.8 253.9h0M48.5 271.7h0M78.0 265.2h0M36.0 253.0h0M41.3 240.3h0M68.3 299.6h0M72.1 310.8h0M43.0 256.4h0M32.6 291.5h0M84.2 274.3h0M86.1 267.4h0M50.4 295.7h0M50.1 239.2h0M72.9 258.3h0M85.8 293.9h0M57.9 311.4h0M33.8 251.2h0M55.6 287.8h0M66.0 278.3h0M64.2 259.9h0M41.9 244.8h0M77.1 313.0h0M58.1 284.8h0M97.5 276.2h0M70.4 294.4h0M25.9 260.7h0M92.7 249.7h0M85.3 304.6h0" stroke="#a31389" stroke-width="1.7" stroke-linecap="round"/><rect x="95.2" y="312.0" width="6.2" height="2" fill="#e8e8e8"/><rect x="104.7" y="236.6" width="78.3" height="78.3" fill="#010116"/><path d="M140.2 280.4h0M155.7 284.7h0M146.0 241.8h0M107.6 273.0h0M145.3 286.6h0M140.6 258.6h0M182.2 314.0h0M129.6 254.9h0M148.4 271.7h0M120.0 293.6h0M121.7 258.0h0M180.2 299.1h0M128.7 305.4h0M171.2 286.7h0M164.9 262.6h0M119.4 249.1h0M175.3 300.3h0M125.1 300.7h0M110.6 254.8h0M158.6 282.3h0M142.5 293.5h0M111.1 279.3h0M162.1 291.5h0M166.5 307.7h0M137.5 298.2h0M150.2 284.1h0M111.8 295.0h0M107.6 283.6h0M128.5 289.5h0M130.5 288.5h0M150.3 261.6h0M153.5 275.3h0M129.6 301.9h0M172.6 240.4h0M129.1 298.2h0M169.3 255.5h0M160.4 251.0h0M155.5 253.0h0M111.7 271.2h0M131.1 297.9h0M145.1 293.0h0M121.4 302.8h0M146.6 276.0h0M152.0 239.3h0M146.8 269.1h0M113.4 293.6h0M134.3 269.1h0M170.9 284.4h0M122.1 314.2h0M125.3 244.7h0M157.9 307.5h0M119.9 242.6h0M119.5 252.9h0M110.1 310.6h0M161.0 242.6h0M146.4 267.2h0M180.9 239.0h0M125.1 268.2h0M134.3 244.8h0M117.6 273.6h0M117.4 295.4h0M163.0 241.1h0M138.4 274.0h0M114.1 306.0h0M150.9 286.0h0M124.5 312.7h0M164.6 253.6h0M155.7 313.5h0M111.4 243.6h0M127.1 248.2h0M132.9 293.2h0M175.7 271.0h0M177.4 306.2h0M169.8 280.6h0M147.3 281.0h0M135.7 263.2h0M169.0 288.6h0M137.7 248.5h0M151.2 254.5h0M147.5 311.0h0M160.3 283.9h0M130.1 257.2h0M172.3 277.0h0M142.3 273.3h0M117.4 301.3h0M106.1 313.7h0M161.7 262.6h0M169.1 244.3h0M117.4 246.8h0M116.2 292.2h0M181.4 309.6h0M142.8 313.9h0M130.0 241.4h0M109.3 290.8h0M156.6 304.0h0M150.4 240.7h0M129.0 275.6h0M173.1 313.9h0M160.3 247.6h0M159.0 309.5h0M134.0 288.2h0M139.3 277.9h0M135.0 308.8h0M143.8 251.1h0M165.9 298.2h0M123.5 274.9h0M149.2 279.1h0M116.6 261.2h0M169.4 297.9h0M173.6 272.9h0M121.8 273.3h0M129.1 271.7h0M158.6 265.2h0M156.7 310.8h0M109.9 266.8h0M118.2 288.5h0M131.7 269.8h0M109.5 275.4h0M150.5 273.4h0M180.0 262.9h0M163.0 278.4h0M166.7 267.4h0M150.4 309.8h0M167.0 301.9h0M142.9 246.5h0M111.3 251.3h0M166.4 293.9h0M151.6 281.4h0M181.9 242.2h0M171.2 296.6h0M127.4 303.1h0M117.4 278.1h0M154.9 302.6h0M113.9 308.0h0M109.7 296.1h0M109.0 285.4h0M125.4 293.5h0M126.3 259.2h0M178.1 276.2h0M107.6 281.2h0M105.4 242.4h0M106.5 296.6h0M151.0 294.4h0" stroke="#1111f2" stroke-width="1.84" stroke-linecap="round"/><path d="M176.6 273.1h0M144.5 282.5h0M119.5 276.7h0M117.4 238.4h0M120.0 255.9h0M139.3 302.2h0M143.8 288.3h0M179.2 302.5h0M165.3 258.0h0M112.0 262.8h0M114.4 256.2h0M113.1 241.8h0M166.8 250.9h0M124.0 283.6h0M173.3 283.7h0M137.8 245.2h0M151.3 259.8h0M106.6 258.0h0M139.7 241.9h0M118.9 265.6h0M149.4 247.3h0M180.9 287.8h0M116.1 239.9h0M159.3 311.4h0M181.9 305.0h0M125.0 238.1h0M120.9 250.3h0M153.9 287.7h0M158.1 252.6h0M146.7 298.2h0M142.9 239.4h0M167.7 242.1h0M116.1 248.7h0M127.7 293.4h0M179.1 308.4h0M126.1 273.7h0M165.4 239.0h0M171.4 255.1h0M174.9 261.6h0M173.7 247.5h0M130.5 273.2h0M119.3 272.2h0M156.7 263.2h0M156.2 281.1h0M108.8 308.9h0M124.2 240.5h0M135.4 306.4h0M111.0 307.0h0M180.3 256.0h0M165.3 278.1h0M108.3 241.9h0M126.2 270.0h0M112.0 289.3h0M134.1 274.1h0M121.5 263.7h0M111.0 246.4h0M138.0 257.1h0M138.3 265.7h0M165.1 243.1h0M124.4 265.1h0M135.8 267.1h0M120.3 280.7h0M155.3 256.1h0M171.1 299.3h0M134.3 250.1h0M109.9 261.0h0M150.3 307.3h0M108.1 245.6h0M175.8 263.6h0M111.7 258.0h0M160.5 244.7h0M169.0 253.3h0M129.3 261.2h0M113.5 267.6h0M116.2 244.5h0M119.2 268.2h0M164.4 300.5h0M144.6 298.0h0M153.7 252.5h0M114.9 312.3h0M175.4 313.7h0M147.5 243.1h0M149.2 250.6h0M141.5 268.9h0M136.8 270.7h0M175.6 311.7h0M141.7 253.1h0M120.1 305.1h0M126.6 286.5h0M158.1 277.3h0M151.3 292.3h0M166.3 255.5h0M117.6 290.5h0M110.0 268.9h0M108.3 255.8h0M140.9 309.1h0M133.4 263.2h0M171.8 253.0h0M164.3 293.0h0M175.2 238.8h0M111.7 305.2h0M116.6 253.0h0M148.9 299.6h0M122.0 290.3h0M116.9 282.1h0M159.4 279.9h0M125.5 288.7h0M152.7 310.8h0M157.7 255.3h0M129.5 292.4h0M158.9 290.1h0M117.6 285.1h0M113.2 291.5h0M117.8 304.0h0M124.9 276.3h0M131.0 295.7h0M181.9 246.5h0M127.2 267.4h0M118.8 245.5h0M158.5 272.1h0M136.3 304.1h0M166.8 276.6h0M172.4 292.1h0M147.6 307.0h0M166.7 248.9h0M110.8 313.4h0M129.2 268.7h0M137.7 263.5h0M146.6 278.3h0M114.9 281.0h0M170.8 249.1h0M109.1 301.6h0M165.5 271.2h0M143.4 290.4h0M138.7 284.8h0M163.4 245.1h0M131.0 248.9h0M164.3 282.1h0M174.6 308.4h0M148.9 264.1h0M145.9 264.5h0M124.1 254.0h0M142.0 300.3h0M126.3 309.6h0M149.1 259.9h0M140.7 283.7h0M122.2 298.8h0M178.4 259.1h0M112.2 275.6h0" stroke="#0f0fd5" stroke-width="1.84" stroke-linecap="round"/><path d="M153.9 298.3h0M112.6 260.6h0M127.6 242.6h0M170.6 267.0h0M115.4 286.8h0M121.5 267.6h0M113.0 313.5h0M112.2 282.1h0M179.2 274.5h0M124.5 251.8h0M162.3 309.7h0M120.5 310.5h0M108.3 311.4h0M123.7 291.5h0M176.0 252.9h0M133.2 305.9h0M132.4 290.0h0M174.8 304.4h0M171.9 281.4h0M153.5 266.7h0M159.1 275.5h0M152.7 308.2h0M175.1 288.1h0M139.4 306.0h0M115.8 275.5h0M111.1 239.6h0M106.8 247.7h0M152.7 295.5h0M115.3 272.2h0M161.0 300.3h0M171.3 264.1h0M178.5 243.8h0M122.4 277.8h0M154.6 277.5h0M180.0 277.6h0M149.5 252.7h0M142.0 261.7h0M120.1 284.8h0M146.1 249.5h0M169.5 269.7h0M166.2 246.9h0M136.4 290.0h0M180.0 246.1h0M170.1 313.6h0M145.0 270.4h0M144.8 238.4h0M106.1 264.6h0M109.2 252.3h0M179.9 281.0h0M178.2 269.6h0M145.7 309.5h0M161.0 273.3h0M151.8 246.1h0M161.9 255.6h0M165.8 285.4h0M167.7 285.3h0M167.7 265.6h0M133.5 265.2h0M122.3 296.2h0M175.8 268.9h0M179.1 286.6h0M162.4 313.6h0M127.8 312.0h0M110.1 272.6h0M119.6 258.9h0M133.9 298.6h0M125.8 278.4h0M105.4 300.5h0M171.4 260.6h0M140.9 311.7h0M134.3 278.8h0M128.3 263.2h0M106.7 262.7h0M174.9 279.5h0M132.5 275.8h0M149.7 290.9h0M148.5 257.6h0M156.1 260.9h0M157.1 294.1h0M167.3 238.5h0M116.3 267.0h0M157.0 248.4h0M144.1 267.8h0M145.9 255.6h0M123.5 242.5h0M114.8 278.6h0M178.6 237.2h0M124.1 260.3h0M177.3 312.5h0M128.1 308.3h0M156.5 298.1h0M144.3 302.4h0M125.6 298.8h0M181.3 248.3h0M135.6 260.2h0M135.6 302.2h0M181.9 289.6h0M178.0 296.7h0M123.6 256.4h0M164.8 274.3h0M158.3 269.5h0M153.5 258.3h0M113.5 248.2h0M138.5 311.4h0M152.8 305.6h0M172.0 301.5h0M114.4 251.2h0M162.1 265.0h0M136.2 287.8h0M106.5 303.5h0M144.8 259.9h0M136.6 284.4h0M171.9 311.5h0M122.5 244.8h0M106.0 268.5h0M150.0 237.6h0M162.1 269.5h0M157.7 313.0h0M114.4 261.9h0M152.3 279.1h0M156.0 242.7h0M145.9 251.4h0M106.9 275.0h0M131.2 263.9h0M123.4 305.2h0M134.6 242.2h0M178.5 272.2h0M132.1 241.0h0M170.5 273.1h0M106.5 260.7h0M173.3 249.7h0M144.5 313.1h0M119.6 290.7h0M165.9 304.6h0" stroke="#0a0a9b" stroke-width="1.84" stroke-linecap="round"/><path d="M112.3 299.6h0M158.8 240.4h0M181.0 311.6h0M170.1 291.8h0M164.4 268.1h0M105.3 253.4h0M180.9 267.8h0M110.9 285.7h0M179.6 295.6h0M114.3 269.6h0M134.0 272.1h0M149.6 304.0h0M106.7 307.4h0M106.9 286.2h0M129.9 314.3h0M162.1 306.6h0M161.4 267.1h0M162.0 282.0h0M142.4 255.0h0M120.6 270.4h0M173.2 266.8h0M169.8 302.6h0M126.6 250.2h0M181.0 272.1h0M140.4 239.1h0M153.8 271.6h0M167.5 311.1h0M141.9 251.0h0M126.3 263.9h0M175.2 243.9h0M177.2 292.9h0M134.4 281.1h0M173.1 298.6h0M154.8 292.5h0M121.7 306.6h0M130.0 307.4h0M147.7 296.4h0M129.3 266.6h0M170.5 306.6h0M148.7 275.1h0M168.2 306.6h0M176.6 247.2h0M158.3 262.0h0M132.7 285.0h0M144.3 295.7h0M140.9 296.2h0M159.3 302.3h0M151.5 276.1h0M125.2 307.5h0M162.7 297.2h0M158.9 296.4h0M123.2 310.0h0M152.4 241.7h0M133.5 259.2h0M128.1 238.3h0M146.0 246.8h0M139.4 288.7h0M150.2 269.5h0M163.4 251.8h0M147.8 285.9h0M162.7 301.9h0M130.4 279.5h0M121.7 288.2h0M176.1 309.7h0M167.2 260.7h0M173.2 258.9h0M107.0 277.0h0M143.4 278.6h0M167.2 269.7h0M168.3 274.2h0M126.5 313.5h0M166.9 253.1h0M157.6 291.8h0M136.7 242.8h0M137.1 238.4h0M114.8 300.8h0M123.9 281.4h0M145.4 257.5h0M154.8 240.1h0M179.3 283.5h0M153.4 290.3h0M163.7 295.2h0M163.3 260.7h0M178.7 250.6h0M138.8 271.3h0M125.7 282.6h0M133.4 253.9h0M160.4 257.9h0M177.5 264.9h0M135.7 255.6h0M108.4 248.8h0M161.2 288.6h0M121.9 240.3h0M180.5 260.2h0M154.1 244.1h0M136.3 273.8h0M153.7 285.1h0M105.4 279.1h0M143.1 280.7h0M130.4 250.9h0M119.5 238.3h0M130.7 239.2h0M177.3 256.6h0M133.5 257.2h0M133.0 295.3h0M177.6 301.1h0M131.5 261.5h0M138.0 300.4h0M177.3 267.1h0M174.3 256.6h0M112.1 265.2h0M141.5 265.1h0M159.4 314.1h0M113.9 298.0h0M170.9 245.2h0M143.9 306.9h0M124.7 258.0h0M169.4 262.5h0M114.0 246.3h0M146.7 301.9h0M127.9 256.7h0M142.8 243.3h0M171.5 309.3h0M107.2 239.7h0M123.7 287.7h0M137.2 313.5h0M135.2 247.7h0M131.7 309.0h0M115.8 289.5h0M137.4 278.8h0M175.7 255.2h0M142.4 286.6h0M144.1 263.6h0M177.2 286.9h0" stroke="#0c0cb8" stroke-width="1.84" stroke-linecap="round"/><rect x="175.8" y="312.0" width="6.2" height="2" fill="#e8e8e8"/><rect x="186.0" y="236.6" width="78.3" height="78.3" fill="#140000"/><path d="M221.5 280.4h0M235.2 298.3h0M193.9 260.6h0M193.6 299.6h0M240.1 240.4h0M237.0 284.7h0M220.6 302.2h0M201.3 293.6h0M203.0 258.0h0M246.2 262.6h0M215.3 272.1h0M260.5 274.5h0M201.8 310.5h0M257.3 252.9h0M200.2 265.6h0M214.5 305.9h0M262.2 287.8h0M243.4 306.6h0M243.4 291.5h0M188.9 283.6h0M231.6 261.6h0M197.1 275.5h0M256.5 243.9h0M215.7 281.1h0M236.8 253.0h0M236.1 292.5h0M249.5 306.6h0M201.4 284.8h0M239.6 262.0h0M194.7 293.6h0M203.4 314.2h0M217.7 290.0h0M251.4 313.6h0M226.1 238.4h0M244.0 297.2h0M238.0 263.2h0M206.4 268.2h0M215.6 244.8h0M259.5 269.6h0M198.7 295.4h0M192.3 307.0h0M219.7 274.0h0M246.6 278.1h0M245.9 253.6h0M237.0 313.5h0M192.7 243.6h0M257.4 309.7h0M224.7 278.6h0M257.1 268.9h0M252.4 299.3h0M248.5 269.7h0M243.7 313.6h0M215.6 250.1h0M253.6 277.0h0M186.7 300.5h0M210.6 261.2h0M222.2 311.7h0M248.2 253.1h0M243.0 262.6h0M250.4 244.3h0M200.5 268.2h0M256.2 279.5h0M197.5 292.2h0M228.8 243.1h0M196.1 278.6h0M231.7 240.7h0M209.4 308.3h0M237.8 298.1h0M215.3 288.2h0M207.9 286.5h0M204.8 274.9h0M230.5 279.1h0M262.6 248.3h0M254.9 272.9h0M263.2 289.6h0M193.0 305.2h0M189.7 248.8h0M197.9 253.0h0M190.8 275.4h0M231.8 273.4h0M224.4 280.7h0M204.9 256.4h0M239.6 269.5h0M234.8 258.3h0M247.7 293.9h0M217.6 304.1h0M248.1 276.6h0M263.2 242.2h0M252.5 296.6h0M210.5 268.7h0M258.6 267.1h0M219.0 263.5h0M240.7 314.1h0M252.2 245.2h0M252.1 249.1h0M239.0 313.0h0M244.7 245.1h0M227.2 251.4h0M216.5 247.7h0M215.9 242.2h0M213.4 241.0h0M254.6 249.7h0M193.5 275.6h0M247.2 304.6h0" stroke="#810c0c" stroke-width="1.7" stroke-linecap="round"/><path d="M225.8 282.5h0M200.8 276.7h0M186.6 253.4h0M195.7 256.2h0M202.8 267.6h0M193.5 282.1h0M189.6 311.4h0M191.9 254.8h0M247.8 307.7h0M193.1 295.0h0M220.7 306.0h0M201.9 270.4h0M262.3 272.1h0M241.7 251.0h0M258.5 292.9h0M230.8 252.7h0M233.3 239.3h0M207.4 273.7h0M257.9 247.2h0M227.4 249.5h0M255.0 247.5h0M239.2 307.5h0M201.2 242.6h0M240.6 302.3h0M232.8 276.1h0M187.4 264.6h0M262.2 239.0h0M190.1 308.9h0M216.7 306.4h0M244.3 241.1h0M242.3 273.3h0M207.5 270.0h0M215.4 274.1h0M217.0 263.2h0M209.1 312.0h0M257.1 263.6h0M207.1 278.4h0M223.6 273.3h0M198.7 301.3h0M194.8 267.6h0M245.7 300.5h0M218.4 238.4h0M225.9 298.0h0M196.2 312.3h0M229.8 257.6h0M196.1 300.8h0M238.3 248.4h0M225.4 267.8h0M190.6 290.8h0M210.3 275.6h0M258.6 312.5h0M201.4 305.1h0M239.4 277.3h0M247.2 298.2h0M220.1 271.3h0M191.3 268.9h0M214.7 253.9h0M210.4 271.7h0M239.9 265.2h0M230.2 299.6h0M203.3 290.3h0M235.4 244.1h0M191.2 266.8h0M198.9 285.1h0M244.3 278.4h0M194.5 291.5h0M246.1 274.3h0M206.2 276.3h0M212.0 239.2h0M208.5 267.4h0M200.1 245.5h0M219.8 311.4h0M195.7 251.2h0M212.8 261.5h0M219.3 300.4h0M195.2 298.0h0M253.2 311.5h0M198.7 278.1h0M236.2 302.6h0M225.2 306.9h0M190.4 301.6h0M190.3 285.4h0M255.9 308.4h0M186.7 242.4h0M187.8 296.6h0M207.6 309.6h0M222.0 283.7h0M203.5 298.8h0M187.8 260.7h0" stroke="#a81010" stroke-width="1.7" stroke-linecap="round"/><path d="M188.9 273.0h0M226.6 286.6h0M225.1 288.3h0M210.9 254.9h0M229.7 271.7h0M210.0 305.4h0M230.9 304.0h0M243.6 309.7h0M239.9 282.3h0M197.4 239.9h0M188.2 286.2h0M213.7 290.0h0M231.5 284.1h0M243.3 282.0h0M209.8 289.5h0M254.5 266.8h0M251.1 302.6h0M207.9 250.2h0M239.4 252.6h0M196.6 272.2h0M254.4 298.6h0M242.3 300.3h0M228.0 298.2h0M229.0 296.4h0M203.7 277.8h0M202.7 302.8h0M222.2 296.2h0M206.5 307.5h0M227.7 267.2h0M233.1 246.1h0M243.2 255.6h0M195.4 306.0h0M205.8 312.7h0M219.3 257.1h0M203.0 288.2h0M214.2 293.2h0M258.7 306.2h0M205.7 265.1h0M251.1 280.6h0M228.6 281.0h0M191.2 261.0h0M189.4 245.6h0M207.8 313.5h0M215.2 298.6h0M193.0 258.0h0M241.8 244.7h0M250.3 253.3h0M188.0 262.7h0M213.8 275.8h0M262.7 309.6h0M218.1 270.7h0M227.2 255.6h0M205.4 260.3h0M223.0 253.1h0M225.6 302.4h0M247.6 255.5h0M207.0 282.6h0M250.7 297.9h0M214.7 263.2h0M253.1 253.0h0M258.8 264.9h0M203.2 240.3h0M199.5 288.5h0M213.0 269.8h0M206.8 288.7h0M210.8 292.4h0M211.7 250.9h0M248.0 267.4h0M212.3 295.7h0M200.8 238.3h0M258.6 256.6h0M192.6 251.3h0M253.7 292.1h0M227.9 278.3h0M196.2 281.0h0M226.1 259.9h0M217.9 284.4h0M203.8 244.8h0M220.0 284.8h0M259.4 276.2h0M230.2 264.1h0M205.4 254.0h0M223.3 300.3h0M213.0 309.0h0M225.8 313.1h0M225.4 263.6h0" stroke="#ce1414" stroke-width="1.7" stroke-linecap="round"/><path d="M251.9 267.0h0M246.6 258.0h0M193.3 262.8h0M260.9 295.6h0M194.4 241.8h0M195.6 269.6h0M261.5 299.1h0M252.5 286.7h0M194.3 313.5h0M200.7 249.1h0M256.6 300.3h0M221.0 241.9h0M253.2 281.4h0M234.8 266.7h0M242.7 267.1h0M240.4 275.5h0M202.2 250.3h0M211.8 288.5h0M192.4 239.6h0M253.9 240.4h0M188.1 247.7h0M221.7 239.1h0M250.6 255.5h0M235.2 287.7h0M248.8 311.1h0M211.3 307.4h0M193.0 271.2h0M197.4 248.7h0M228.1 269.1h0M246.7 239.0h0M252.2 284.4h0M225.6 295.7h0M200.6 272.2h0M237.5 281.1h0M233.7 241.7h0M261.6 256.0h0M231.5 269.5h0M244.7 251.8h0M192.3 246.4h0M249.0 265.6h0M219.6 265.7h0M208.4 248.2h0M248.5 260.7h0M254.5 258.9h0M191.4 272.6h0M200.9 258.9h0M249.6 274.2h0M252.7 260.6h0M187.4 313.7h0M209.6 263.2h0M256.7 313.7h0M237.4 260.9h0M236.1 240.1h0M260.6 283.5h0M211.3 241.4h0M256.9 311.7h0M240.3 309.5h0M225.1 251.1h0M260.0 250.6h0M232.6 292.3h0M203.1 273.3h0M245.6 293.0h0M217.0 255.6h0M234.0 310.8h0M261.3 262.9h0M263.2 246.5h0M214.3 295.3h0M248.0 248.9h0M253.3 301.5h0M208.7 303.1h0M255.6 256.6h0M222.8 265.1h0M217.5 287.8h0M187.8 303.5h0M206.0 258.0h0M250.7 262.5h0M246.8 271.2h0M195.7 261.9h0M212.5 263.9h0M204.7 305.2h0M218.5 313.5h0M232.3 294.4h0M218.7 278.8h0M257.0 255.2h0M259.7 259.1h0M258.5 286.9h0" stroke="#f01818" stroke-width="1.7" stroke-linecap="round"/><rect x="257.1" y="312.0" width="6.2" height="2" fill="#e8e8e8"/><rect x="24.1" y="316.3" width="78.3" height="78.3" fill="#100014"/><path d="M77.0 320.1h0M66.3 369.4h0M62.4 349.9h0M63.9 352.4h0M71.0 325.9h0M45.4 322.8h0M28.5 375.4h0M25.8 356.5h0M42.6 388.2h0M80.7 370.3h0M79.8 365.9h0M31.7 391.4h0M48.3 386.7h0M85.7 392.2h0M62.6 389.4h0M98.4 327.5h0M78.6 344.3h0M25.3 385.4h0M50.5 343.9h0M87.4 353.3h0M66.7 354.4h0M28.3 347.8h0M94.6 321.2h0M67.9 364.0h0M50.1 334.7h0M46.2 393.9h0M97.9 392.8h0M89.0 389.8h0M26.2 372.7h0M26.5 318.6h0M64.8 380.7h0M73.8 369.7h0M100.1 358.0h0M67.4 337.6h0M34.8 350.1h0M27.6 362.7h0M26.0 325.1h0M57.6 363.1h0M27.9 321.3h0M91.5 348.4h0M91.2 344.0h0M56.5 322.2h0M84.7 328.7h0M38.6 370.4h0M100.0 380.8h0M54.0 330.5h0M100.6 317.9h0M27.0 393.8h0M81.9 387.9h0M26.5 349.7h0M79.0 392.4h0M31.2 356.0h0M93.3 342.4h0M65.5 335.1h0M78.3 333.7h0M37.8 379.0h0M86.1 377.2h0" stroke="#1715a4" stroke-width="1.7" stroke-linecap="round"/><path d="M64.8 339.3h0M66.7 389.5h0M30.8 367.8h0M59.9 388.4h0M86.2 364.8h0M89.7 371.0h0M94.8 360.5h0M93.8 384.6h0M71.1 364.7h0M45.9 344.9h0M89.2 377.5h0M88.2 332.7h0M51.0 341.6h0M25.3 392.5h0M54.0 376.6h0M77.0 323.0h0M30.7 323.6h0M95.9 333.8h0M41.1 361.9h0M31.2 321.3h0M92.3 390.8h0M91.9 350.4h0M30.2 333.3h0M62.1 385.5h0M93.6 388.1h0M82.8 339.6h0M31.4 369.8h0M81.8 367.9h0M68.7 371.3h0M99.8 389.6h0M51.1 323.9h0M86.3 331.0h0M96.1 382.0h0M91.9 371.6h0M27.4 385.4h0M94.2 369.1h0M47.0 354.8h0M42.8 376.8h0M101.1 341.0h0M48.5 336.6h0M100.2 366.2h0M58.2 389.5h0M55.6 359.3h0M88.7 344.5h0M46.2 348.6h0M95.2 336.3h0M33.7 389.5h0M76.2 350.6h0M36.3 382.5h0M27.2 337.2h0M70.6 393.4h0M73.0 342.4h0M96.1 331.2h0M65.8 385.8h0M93.5 317.1h0M42.6 353.5h0M34.7 363.6h0M81.4 386.1h0M87.4 387.5h0M93.9 324.1h0M99.9 343.0h0M30.8 361.5h0" stroke="#221eeb" stroke-width="1.7" stroke-linecap="round"/><path d="M75.2 332.9h0M43.4 372.1h0M98.1 330.9h0M76.1 336.3h0M52.8 373.4h0M90.5 391.7h0M60.4 339.8h0M71.5 336.8h0M70.5 373.7h0M91.9 339.9h0M59.6 391.6h0M73.6 360.6h0M87.8 322.8h0M86.9 382.8h0M42.7 335.3h0M93.0 355.4h0M77.1 353.1h0M92.0 376.6h0M81.5 343.3h0M72.2 345.0h0M58.4 323.5h0M34.6 357.8h0M69.1 320.0h0M87.7 335.6h0M52.1 377.8h0M79.2 352.6h0M56.2 339.4h0M101.1 387.1h0M33.7 356.0h0M40.3 384.7h0M90.0 383.1h0M69.6 352.6h0M66.8 391.9h0M74.7 362.5h0M46.2 366.9h0M59.6 369.4h0M64.6 361.4h0M52.5 356.1h0M96.0 348.4h0M80.1 317.1h0M74.9 375.8h0M57.9 377.3h0M88.7 339.2h0M94.8 390.3h0M37.6 373.9h0M82.1 327.2h0M96.3 379.6h0M40.8 333.1h0M58.5 340.0h0M85.1 333.8h0M54.8 367.0h0M34.8 361.4h0" stroke="#1d19ca" stroke-width="1.7" stroke-linecap="round"/><path d="M96.8 389.3h0M101.8 358.9h0M61.5 330.1h0M47.4 325.6h0M83.5 353.8h0M71.8 348.4h0M81.3 376.3h0M45.6 359.8h0M63.8 370.2h0M39.1 329.8h0M98.1 349.5h0M82.3 374.0h0M49.4 390.7h0M31.3 374.0h0M74.8 381.0h0M81.3 359.5h0M53.0 362.0h0M76.7 338.2h0M95.0 392.9h0M95.4 343.0h0M95.3 357.8h0M31.7 376.8h0M35.5 370.5h0M59.3 330.2h0M78.2 383.9h0M69.5 323.6h0M36.0 391.4h0M72.8 317.3h0M75.6 359.3h0M63.8 393.2h0M87.4 368.4h0M86.8 393.8h0M87.2 318.7h0M67.9 334.2h0M34.4 337.6h0M31.9 338.6h0M89.0 381.2h0M91.0 318.2h0M57.7 317.4h0M52.1 392.3h0M65.3 387.7h0M53.8 359.8h0M82.1 348.3h0M82.5 323.0h0M28.5 370.0h0M72.9 384.9h0M73.4 367.4h0M73.3 387.1h0M62.0 365.0h0M54.8 338.1h0M101.0 377.1h0M34.0 343.5h0M96.9 386.3h0M42.7 382.2h0M43.2 374.1h0M68.5 349.9h0M45.1 383.5h0M79.8 368.3h0M29.7 387.5h0M96.8 325.1h0M53.2 319.9h0M70.0 346.4h0M61.9 380.8h0M52.7 352.2h0M36.1 333.1h0M66.0 317.9h0M34.2 387.3h0M57.4 346.2h0M77.7 387.4h0M97.1 383.9h0M35.0 341.1h0M97.1 373.7h0M57.8 393.2h0M44.2 331.4h0M53.0 322.8h0M64.7 330.6h0M63.3 320.1h0M40.7 368.6h0M69.6 330.4h0M82.9 319.1h0M46.9 381.3h0M101.8 392.3h0M85.1 320.8h0M33.2 322.2h0M76.5 317.4h0M34.3 328.3h0M98.3 370.4h0M68.4 343.3h0M85.8 386.0h0M101.2 320.5h0M71.2 332.7h0" stroke="#fc1ed3" stroke-width="1.7" stroke-linecap="round"/><path d="M81.2 363.3h0M55.0 317.0h0M29.4 319.7h0M37.5 353.6h0M99.4 346.8h0M26.7 353.0h0M27.9 366.7h0M56.6 382.6h0M73.3 334.6h0M31.0 381.4h0M25.5 330.2h0M27.4 329.3h0M59.1 366.0h0M58.5 333.6h0M48.2 334.1h0M86.3 357.8h0M85.8 344.6h0M45.3 365.2h0M28.7 325.4h0M30.9 353.4h0M85.5 389.5h0M37.9 327.9h0M55.5 343.9h0M28.7 381.8h0M41.7 348.6h0M80.1 336.3h0M63.1 379.3h0M99.8 324.0h0M42.6 380.0h0M47.2 364.3h0M31.9 365.2h0M80.6 338.5h0M32.5 330.2h0M87.5 326.4h0M52.5 358.1h0M60.2 377.7h0M98.2 365.8h0M90.0 363.0h0M75.1 388.4h0M53.0 333.2h0M69.5 336.6h0M56.3 372.8h0M26.8 342.9h0M90.1 325.6h0M27.6 332.9h0M79.7 342.5h0M58.5 379.5h0M62.4 325.0h0M94.2 345.6h0M66.1 342.9h0M52.1 364.9h0M32.6 341.4h0M74.1 365.5h0M99.5 375.7h0M57.3 361.1h0M75.4 378.3h0M92.0 357.8h0M77.1 376.6h0M40.6 345.4h0M90.9 355.7h0M34.5 345.6h0M49.6 361.2h0M37.4 351.1h0M66.6 362.5h0M37.6 339.9h0M64.1 364.4h0M95.4 351.0h0M56.5 333.2h0M53.5 389.7h0M79.3 356.7h0M58.1 375.4h0M65.8 377.8h0M84.2 366.9h0M68.4 387.2h0M56.0 391.6h0M88.3 330.6h0M89.1 317.9h0M42.1 321.9h0M60.7 361.7h0M29.5 344.6h0M73.0 338.5h0M39.2 393.0h0M99.2 333.1h0M28.2 360.3h0M49.6 393.8h0M85.4 339.9h0M52.6 343.8h0M80.2 347.0h0M89.3 327.3h0M62.9 338.7h0M83.0 350.9h0M47.5 383.9h0M41.2 338.6h0M85.5 380.9h0M74.8 392.7h0M36.7 361.8h0" stroke="#d91ab6" stroke-width="1.7" stroke-linecap="round"/><path d="M74.2 351.1h0M65.3 321.1h0M101.4 363.9h0M81.2 383.3h0M39.9 378.2h0M72.1 380.9h0M33.3 319.9h0M40.6 374.8h0M100.0 352.5h0M85.5 362.2h0M51.4 319.1h0M98.7 359.9h0M37.7 368.3h0M85.4 375.0h0M67.9 357.2h0M82.2 332.6h0M54.6 387.9h0M63.8 377.2h0M33.9 324.9h0M48.7 371.1h0M32.0 387.2h0M41.1 340.8h0M51.8 330.3h0M70.8 387.0h0M47.8 331.6h0M24.9 333.0h0M33.3 370.1h0M71.9 355.9h0M49.6 328.4h0M48.9 348.9h0M95.6 326.7h0M59.4 358.9h0M89.2 350.7h0M44.2 339.3h0M50.8 332.2h0M38.7 381.2h0M48.9 356.1h0M51.7 326.8h0M92.1 333.1h0M79.8 373.7h0M91.2 393.9h0M97.6 322.2h0M63.1 375.0h0M31.7 348.3h0M60.5 319.8h0M66.3 383.6h0M45.6 333.0h0M95.1 353.0h0M47.3 373.2h0M40.6 356.3h0M61.3 333.7h0M55.6 378.0h0M36.8 319.2h0M79.2 379.8h0M58.9 348.7h0M78.0 347.9h0M82.1 355.6h0M56.3 355.0h0M62.9 336.2h0M56.9 386.8h0M42.0 326.9h0M84.0 356.1h0M45.5 351.2h0M64.7 367.6h0M52.9 380.8h0M66.9 351.3h0M47.2 346.3h0M61.2 374.6h0M68.9 339.1h0M90.7 369.3h0M25.1 358.3h0M72.1 371.7h0M36.6 330.5h0M90.0 337.7h0M33.0 385.1h0M40.5 343.2h0M30.1 341.5h0M76.2 369.0h0M34.1 379.1h0M78.5 329.6h0M100.1 355.1h0M52.6 348.3h0M59.6 327.0h0M99.0 362.7h0M26.6 346.8h0M92.0 385.8h0M61.6 370.4h0M76.0 385.2h0M101.7 367.8h0M100.7 326.3h0M68.0 359.4h0M27.0 378.2h0M40.1 387.2h0M38.0 343.7h0M55.5 348.7h0M25.1 341.7h0" stroke="#b01594" stroke-width="1.7" stroke-linecap="round"/><path d="M46.8 377.2h0M98.9 384.6h0M32.8 350.5h0M75.0 343.4h0M55.2 375.1h0M96.4 364.3h0M62.5 356.3h0M56.4 330.7h0M74.9 330.8h0M37.5 337.5h0M48.5 322.3h0M82.1 330.4h0M73.8 322.7h0M97.2 337.8h0M29.6 338.6h0M34.6 330.5h0M74.6 318.8h0M47.0 390.5h0M70.6 362.0h0M39.9 352.2h0M30.1 327.5h0M63.9 358.4h0M38.4 359.1h0M74.0 327.9h0M43.2 319.0h0M59.3 354.0h0M57.0 325.7h0M63.3 340.9h0M81.7 390.6h0M74.1 390.3h0M68.2 367.8h0M84.2 372.1h0M39.5 349.3h0M43.1 337.2h0M43.7 393.6h0M98.6 378.2h0M26.5 389.1h0M89.1 347.3h0M90.4 330.4h0M101.1 336.6h0M92.8 326.9h0M54.6 341.0h0M43.5 323.2h0M49.0 342.5h0M92.1 382.3h0M32.4 345.4h0M70.9 367.4h0M76.3 374.1h0M49.2 373.5h0M81.6 393.3h0M81.7 380.0h0M97.9 341.7h0M53.8 346.7h0M77.2 331.8h0M98.1 355.6h0M44.5 391.0h0M77.1 356.7h0M56.3 369.2h0M30.5 358.4h0M88.9 359.6h0M61.7 346.8h0M68.3 383.5h0M38.5 363.8h0M66.1 358.3h0M65.4 346.3h0M62.9 383.1h0M89.8 385.7h0M27.7 355.4h0M40.0 335.2h0M25.2 365.9h0M92.8 329.5h0M92.4 321.9h0M63.7 348.3h0M48.0 340.1h0M44.7 385.3h0M88.2 373.7h0M67.8 325.8h0M29.4 390.2h0M100.3 369.6h0M34.8 368.0h0M41.2 318.2h0M43.6 364.0h0M54.0 393.8h0M52.7 370.8h0M53.1 384.9h0M47.2 352.6h0M59.3 344.9h0M88.4 320.5h0M79.5 385.6h0M45.7 387.9h0M77.4 372.2h0M75.0 339.4h0M77.3 381.3h0M84.2 383.3h0M85.0 325.5h0M98.6 335.4h0M91.7 380.3h0M67.3 381.8h0M33.6 353.8h0M51.7 388.9h0M67.1 374.6h0M95.8 376.0h0M46.6 317.0h0M69.5 378.3h0M78.2 359.8h0M76.5 340.7h0" stroke="#881072" stroke-width="1.7" stroke-linecap="round"/><rect x="95.2" y="391.70000000000005" width="6.2" height="2" fill="#e8e8e8"/><rect x="104.7" y="316.3" width="78.3" height="78.3" fill="#010116"/><path d="M177.4 389.3h0M154.8 351.1h0M127.4 377.2h0M146.9 369.4h0M113.4 350.5h0M145.9 321.1h0M182.0 363.9h0M107.3 353.0h0M126.2 359.8h0M144.4 370.2h0M177.0 364.3h0M137.0 330.7h0M119.7 329.8h0M108.5 366.7h0M178.7 349.5h0M133.4 373.4h0M137.2 382.6h0M130.0 390.7h0M108.0 329.3h0M126.0 322.8h0M171.1 391.7h0M175.4 360.5h0M111.9 374.0h0M151.7 364.7h0M126.5 344.9h0M161.9 359.5h0M141.0 339.8h0M152.1 336.8h0M151.1 373.7h0M125.9 365.2h0M135.2 387.9h0M140.2 391.6h0M111.5 353.4h0M176.0 343.0h0M154.2 360.6h0M118.5 327.9h0M109.1 375.4h0M136.1 343.9h0M116.1 370.5h0M110.7 327.5h0M144.5 358.4h0M121.7 361.9h0M119.0 359.1h0M121.7 340.8h0M123.3 335.3h0M150.1 323.6h0M172.9 390.8h0M137.6 325.7h0M160.7 336.3h0M161.3 370.3h0M156.2 359.3h0M157.7 353.1h0M167.4 393.8h0M123.2 380.0h0M174.2 388.1h0M112.3 391.4h0M166.3 392.2h0M112.0 369.8h0M140.8 377.7h0M148.8 367.8h0M170.6 363.0h0M148.5 334.2h0M168.0 353.3h0M171.6 318.2h0M107.4 342.9h0M138.3 317.4h0M132.3 326.8h0M170.7 325.6h0M108.2 332.9h0M162.4 367.9h0M171.0 330.4h0M134.4 359.8h0M163.1 323.0h0M132.7 377.8h0M178.2 322.2h0M160.3 342.5h0M136.8 339.4h0M143.7 375.0h0M181.7 387.1h0M113.2 341.4h0M141.1 319.8h0M146.9 383.6h0M154.7 365.5h0M130.7 334.7h0M181.6 377.1h0M156.9 374.1h0M129.8 373.5h0M137.9 361.1h0M162.2 393.3h0M117.4 319.2h0M169.6 389.8h0M170.6 383.1h0M158.6 347.9h0M145.4 380.7h0M157.7 356.7h0M143.5 336.2h0M150.2 352.6h0M147.4 391.9h0M118.0 351.1h0M169.5 359.6h0M137.5 386.8h0M142.3 346.8h0M119.1 363.8h0M127.6 354.8h0M146.0 346.3h0M145.2 361.4h0M137.1 333.2h0M108.3 355.4h0M138.7 375.4h0M108.2 362.7h0M173.4 329.5h0M164.8 366.9h0M173.0 321.9h0M138.2 363.1h0M142.5 380.8h0M138.8 389.5h0M133.1 356.1h0M176.6 348.4h0M146.6 317.9h0M110.0 390.2h0M138.0 346.2h0M141.8 374.6h0M171.8 344.0h0M158.3 387.4h0M110.1 344.6h0M177.7 383.9h0M118.2 373.9h0M137.1 322.2h0M143.9 320.1h0M160.1 385.6h0M162.7 327.2h0M126.3 387.9h0M121.3 368.6h0M113.6 385.1h0M165.6 325.5h0M130.2 393.8h0M127.5 381.3h0M156.8 369.0h0M114.7 379.1h0M160.8 347.0h0M140.2 327.0h0M107.2 346.8h0M176.7 331.2h0M146.4 385.8h0M162.5 387.9h0M135.4 367.0h0M107.1 349.7h0M176.4 376.0h0M156.6 385.2h0M182.3 367.8h0M173.9 342.4h0M115.3 363.6h0M148.6 359.4h0M121.8 338.6h0M120.7 387.2h0M174.5 324.1h0M118.6 343.7h0M155.4 392.7h0M181.8 320.5h0" stroke="#1111f5" stroke-width="1.84" stroke-linecap="round"/><path d="M182.4 358.9h0M161.8 363.3h0M128.0 325.6h0M110.0 319.7h0M155.6 343.4h0M118.1 353.6h0M161.9 376.3h0M180.0 346.8h0M135.8 375.1h0M111.4 367.8h0M155.5 330.8h0M140.5 388.4h0M162.9 374.0h0M162.7 330.4h0M113.9 319.9h0M106.1 330.2h0M166.1 362.2h0M174.4 384.6h0M118.3 368.3h0M169.8 377.5h0M110.2 338.6h0M148.5 357.2h0M128.8 334.1h0M157.3 338.2h0M109.3 325.4h0M155.2 318.8h0M157.6 323.0h0M175.9 357.8h0M144.4 377.2h0M120.5 352.2h0M129.3 371.1h0M109.3 381.8h0M122.3 348.6h0M123.8 319.0h0M158.8 383.9h0M116.6 391.4h0M139.9 354.0h0M123.2 388.2h0M143.7 379.3h0M151.4 387.0h0M113.9 370.1h0M152.5 355.9h0M144.4 393.2h0M168.0 368.4h0M142.7 385.5h0M163.4 339.6h0M176.2 326.7h0M139.0 323.5h0M159.2 344.3h0M105.9 385.4h0M112.5 338.6h0M140.0 358.9h0M131.1 343.9h0M120.1 349.3h0M169.6 381.2h0M172.7 333.1h0M171.8 393.9h0M168.3 335.6h0M179.2 378.2h0M145.9 387.7h0M169.7 347.3h0M139.1 379.5h0M159.8 352.6h0M112.3 348.3h0M143.0 325.0h0M174.8 345.6h0M124.1 323.2h0M153.5 384.9h0M180.4 389.6h0M175.7 353.0h0M126.8 393.9h0M114.6 343.5h0M141.9 333.7h0M177.5 386.3h0M172.5 371.6h0M162.3 380.0h0M107.1 318.6h0M134.4 346.7h0M157.8 331.8h0M162.7 355.6h0M178.7 355.6h0M157.7 376.6h0M136.9 355.0h0M130.2 361.2h0M111.1 358.4h0M160.4 368.3h0M110.3 387.5h0M144.7 364.4h0M133.8 319.9h0M134.1 389.7h0M146.4 377.8h0M149.0 387.2h0M164.6 356.1h0M128.6 340.1h0M160.7 317.1h0M133.5 380.8h0M168.9 330.6h0M115.4 368.0h0M121.8 318.2h0M169.3 344.5h0M126.8 348.6h0M169.7 317.9h0M149.5 339.1h0M122.7 321.9h0M141.3 361.7h0M133.7 384.9h0M115.6 341.1h0M138.4 393.2h0M139.9 344.9h0M133.6 322.8h0M169.0 320.5h0M165.3 328.7h0M107.8 337.2h0M155.6 339.4h0M153.6 338.5h0M119.8 393.0h0M164.8 383.3h0M121.1 343.2h0M151.2 393.4h0M165.7 320.8h0M180.7 355.1h0M181.2 317.9h0M147.7 374.6h0M163.6 350.9h0M178.9 370.4h0M158.9 333.7h0M158.8 359.8h0M166.1 380.9h0M136.1 348.7h0M111.4 361.5h0M151.8 332.7h0" stroke="#0c0cb2" stroke-width="1.84" stroke-linecap="round"/><path d="M142.1 330.1h0M147.3 389.5h0M152.4 348.4h0M143.0 349.9h0M124.0 372.1h0M161.8 383.3h0M143.1 356.3h0M152.7 380.9h0M178.7 330.9h0M118.1 337.5h0M156.7 336.3h0M151.6 325.9h0M154.4 322.7h0M170.3 371.0h0M155.4 381.0h0M177.8 337.8h0M132.0 319.1h0M168.8 332.7h0M175.6 392.9h0M166.4 344.6h0M172.5 339.9h0M134.6 376.6h0M112.3 376.8h0M127.6 390.5h0M114.5 324.9h0M151.2 362.0h0M168.4 322.8h0M106.4 356.5h0M139.9 330.2h0M112.6 387.2h0M154.6 327.9h0M153.4 317.3h0M132.4 330.3h0M160.4 365.9h0M180.4 324.0h0M172.5 350.4h0M127.8 364.3h0M128.9 386.7h0M161.2 338.5h0M113.1 330.2h0M130.2 328.4h0M168.1 326.4h0M133.1 358.1h0M154.7 390.3h0M115.2 357.8h0M133.6 333.2h0M150.1 336.6h0M123.7 337.2h0M119.3 381.2h0M124.3 393.6h0M160.4 373.7h0M132.7 392.3h0M147.3 354.4h0M107.1 389.1h0M108.9 347.8h0M162.7 348.3h0M129.6 342.5h0M132.7 364.9h0M148.5 364.0h0M126.2 333.0h0M153.9 387.1h0M166.9 331.0h0M151.5 367.4h0M142.6 365.0h0M114.3 356.0h0M180.1 375.7h0M156.0 378.3h0M159.8 379.8h0M139.5 348.7h0M123.3 382.2h0M106.8 372.7h0M178.5 341.7h0M123.8 374.1h0M154.4 369.7h0M121.2 345.4h0M115.1 345.6h0M136.9 369.2h0M174.8 369.1h0M126.8 366.9h0M148.9 383.5h0M122.6 326.9h0M140.2 369.4h0M176.0 351.0h0M143.5 383.1h0M159.9 356.7h0M105.8 365.9h0M150.6 346.4h0M106.6 325.1h0M180.8 366.2h0M125.3 385.3h0M126.1 351.2h0M136.6 391.6h0M145.3 367.6h0M168.8 373.7h0M148.4 325.8h0M147.5 351.3h0M114.8 387.3h0M180.9 369.6h0M124.2 364.0h0M169.3 339.2h0M156.8 350.6h0M124.8 331.4h0M145.3 330.6h0M152.7 371.7h0M116.9 382.5h0M158.0 372.2h0M117.2 330.5h0M176.9 379.6h0M179.8 333.1h0M108.8 360.3h0M139.1 340.0h0M166.0 339.9h0M180.6 380.8h0M182.4 392.3h0M165.7 333.8h0M179.2 335.4h0M159.1 329.6h0M133.2 348.3h0M147.9 381.8h0M113.8 322.2h0M127.2 317.0h0M115.4 361.4h0M150.1 378.3h0M174.1 317.1h0M123.2 353.5h0M149.0 343.3h0M162.0 386.1h0M107.6 378.2h0M117.3 361.8h0M180.5 343.0h0M166.4 386.0h0M105.7 341.7h0" stroke="#0e0ed3" stroke-width="1.84" stroke-linecap="round"/><path d="M157.6 320.1h0M164.1 353.8h0M145.4 339.3h0M135.6 317.0h0M179.5 384.6h0M155.8 332.9h0M120.5 378.2h0M144.5 352.4h0M129.1 322.3h0M166.8 364.8h0M153.9 334.6h0M111.6 381.4h0M121.2 374.8h0M180.6 352.5h0M139.7 366.0h0M179.3 359.9h0M139.1 333.6h0M166.0 375.0h0M133.6 362.0h0M162.8 332.6h0M166.9 357.8h0M115.2 330.5h0M131.6 341.6h0M105.9 392.5h0M111.3 323.6h0M166.1 389.5h0M176.5 333.8h0M167.5 382.8h0M111.8 321.3h0M173.6 355.4h0M128.4 331.6h0M143.9 340.9h0M105.5 333.0h0M110.8 333.3h0M112.5 365.2h0M162.3 390.6h0M167.8 318.7h0M172.6 376.6h0M162.1 343.3h0M143.2 389.4h0M129.5 348.9h0M178.8 365.8h0M152.8 345.0h0M179.0 327.5h0M115.0 337.6h0M164.8 372.1h0M155.7 388.4h0M169.8 350.7h0M136.9 372.8h0M124.8 339.3h0M131.4 332.2h0M149.7 320.0h0M129.5 356.1h0M181.7 336.6h0M173.4 326.9h0M135.2 341.0h0M149.3 371.3h0M146.7 342.9h0M109.1 370.0h0M175.2 321.2h0M172.7 382.3h0M131.7 323.9h0M154.0 367.4h0M113.0 345.4h0M127.9 373.2h0M135.4 338.1h0M121.2 356.3h0M178.5 392.8h0M120.9 384.7h0M176.7 382.0h0M136.2 378.0h0M172.6 357.8h0M108.0 385.4h0M149.1 349.9h0M125.1 391.0h0M171.5 355.7h0M180.7 358.0h0M125.7 383.5h0M155.3 362.5h0M148.0 337.6h0M147.2 362.5h0M118.2 339.9h0M146.7 358.3h0M177.4 325.1h0M115.4 350.1h0M170.4 385.7h0M123.4 376.8h0M120.6 335.2h0M181.7 341.0h0M129.1 336.6h0M144.3 348.3h0M133.3 352.2h0M108.5 321.3h0M116.7 333.1h0M155.5 375.8h0M136.2 359.3h0M138.5 377.3h0M127.8 346.3h0M175.8 336.3h0M134.6 393.8h0M172.1 348.4h0M133.3 370.8h0M175.4 390.3h0M171.3 369.3h0M114.3 389.5h0M105.7 358.3h0M127.8 352.6h0M177.7 373.7h0M150.2 330.4h0M163.5 319.1h0M157.9 381.3h0M170.6 337.7h0M121.4 333.1h0M110.7 341.5h0M119.2 370.4h0M133.2 343.8h0M134.6 330.5h0M153.6 342.4h0M172.3 380.3h0M169.9 327.3h0M179.6 362.7h0M143.5 338.7h0M114.2 353.8h0M172.6 385.8h0M157.1 317.4h0M142.2 370.4h0M132.3 388.9h0M107.6 393.8h0M159.6 392.4h0M111.8 356.0h0M114.9 328.3h0M181.3 326.3h0M146.1 335.1h0M128.1 383.9h0M157.1 340.7h0M168.0 387.5h0M118.4 379.0h0M166.7 377.2h0" stroke="#1313ff" stroke-width="1.84" stroke-linecap="round"/><rect x="172.5" y="391.70000000000005" width="9.5" height="2" fill="#e8e8e8"/><rect x="186.0" y="316.3" width="78.3" height="78.3" fill="#140000"/><path d="M258.7 389.3h0M216.9 317.0h0M191.3 319.7h0M233.7 348.4h0M263.3 363.9h0M243.2 376.3h0M261.3 346.8h0M188.6 353.0h0M225.7 370.2h0M201.0 329.8h0M260.0 349.5h0M195.2 319.9h0M218.5 382.6h0M235.2 334.6h0M221.0 366.0h0M210.1 334.1h0M196.5 330.5h0M216.5 387.9h0M192.8 353.4h0M257.3 343.0h0M225.7 377.2h0M232.5 362.0h0M217.4 343.9h0M192.0 327.5h0M190.6 381.8h0M240.1 383.9h0M231.4 323.6h0M234.7 317.3h0M213.7 330.3h0M232.7 387.0h0M237.5 359.3h0M209.7 331.6h0M261.7 324.0h0M243.6 390.6h0M210.8 348.9h0M260.1 365.8h0M214.9 333.2h0M231.4 336.6h0M218.2 372.8h0M213.6 326.8h0M254.0 333.1h0M252.0 325.6h0M205.6 393.6h0M188.4 389.1h0M227.2 387.7h0M215.7 359.8h0M241.6 342.5h0M225.0 375.0h0M214.0 364.9h0M234.8 384.9h0M232.8 367.4h0M216.7 338.1h0M238.2 374.1h0M195.9 343.5h0M211.1 373.5h0M261.4 375.7h0M259.8 341.7h0M230.4 349.9h0M239.0 356.7h0M207.0 383.5h0M192.4 358.4h0M228.5 362.5h0M241.7 368.3h0M199.5 339.9h0M191.6 387.5h0M203.9 326.9h0M228.0 358.3h0M231.9 346.4h0M225.6 348.3h0M223.8 380.8h0M209.1 346.3h0M205.5 364.0h0M214.6 370.8h0M191.4 344.6h0M215.0 384.9h0M187.0 358.3h0M250.3 320.5h0M226.6 330.6h0M207.6 387.9h0M231.5 330.4h0M234.9 338.5h0M244.8 319.1h0M251.9 337.7h0M261.1 333.1h0M211.5 393.8h0M196.0 379.1h0M242.1 347.0h0M253.6 380.3h0M221.5 327.0h0M224.8 338.7h0M238.4 317.4h0M257.7 376.0h0M244.9 350.9h0M196.2 328.3h0M247.7 386.0h0" stroke="#b51212" stroke-width="1.7" stroke-linecap="round"/><path d="M263.7 358.9h0M243.1 363.3h0M236.1 351.1h0M208.7 377.2h0M260.8 384.6h0M227.2 321.1h0M199.4 353.6h0M258.3 364.3h0M199.4 337.5h0M211.3 390.7h0M236.7 381.0h0M261.9 352.5h0M259.1 337.8h0M260.6 359.9h0M199.6 368.3h0M220.4 333.6h0M243.2 359.5h0M191.5 338.6h0M229.8 357.2h0M248.2 357.8h0M247.7 344.6h0M247.4 389.5h0M257.2 357.8h0M208.9 390.5h0M197.4 370.5h0M210.6 371.1h0M200.3 359.1h0M197.9 391.4h0M225.2 340.9h0M186.8 333.0h0M195.2 370.1h0M225.7 393.2h0M248.7 393.8h0M204.5 380.0h0M194.4 330.2h0M249.4 326.4h0M214.4 358.1h0M222.1 377.7h0M230.1 367.8h0M257.5 326.7h0M229.8 334.2h0M196.3 337.6h0M246.1 372.1h0M237.0 388.4h0M205.0 337.2h0M252.9 318.2h0M219.6 317.4h0M253.1 393.9h0M189.5 332.9h0M244.0 348.3h0M256.1 345.6h0M210.9 342.5h0M222.4 319.8h0M207.5 333.0h0M254.0 382.3h0M236.0 365.5h0M257.0 353.0h0M219.2 361.1h0M237.3 378.3h0M243.5 393.3h0M241.1 379.8h0M220.8 348.7h0M204.6 382.2h0M239.0 376.6h0M218.2 355.0h0M224.8 336.2h0M230.2 383.5h0M215.1 319.9h0M227.3 346.3h0M215.4 389.7h0M251.7 385.7h0M220.0 375.4h0M201.9 335.2h0M246.1 366.9h0M254.3 321.9h0M230.3 387.2h0M207.4 351.2h0M217.9 391.6h0M250.1 373.7h0M229.7 325.8h0M228.8 351.3h0M191.3 390.2h0M219.3 346.2h0M215.9 393.8h0M230.8 339.1h0M222.6 361.7h0M206.1 331.4h0M214.9 322.8h0M241.4 385.6h0M239.3 372.2h0M236.9 339.4h0M239.2 381.3h0M202.4 343.2h0M247.3 339.9h0M208.8 381.3h0M238.1 369.0h0M214.5 343.8h0M260.5 335.4h0M247.0 320.8h0M262.0 355.1h0M214.5 348.3h0M229.2 381.8h0M251.2 327.3h0M260.9 362.7h0M253.9 385.8h0M213.6 388.9h0M230.3 343.3h0M240.1 359.8h0M238.4 340.7h0M199.9 343.7h0M198.6 361.8h0M263.1 320.5h0" stroke="#8b0d0d" stroke-width="1.7" stroke-linecap="round"/><path d="M223.4 330.1h0M209.3 325.6h0M245.4 353.8h0M243.1 383.3h0M234.0 380.9h0M236.8 330.8h0M210.4 322.3h0M192.9 381.4h0M189.3 329.3h0M247.4 362.2h0M244.1 332.6h0M190.6 325.4h0M236.5 318.8h0M195.8 324.9h0M201.8 352.2h0M205.1 319.0h0M218.9 325.7h0M242.0 336.3h0M209.1 364.3h0M211.5 328.4h0M193.8 338.6h0M212.7 332.2h0M200.6 381.2h0M210.8 356.1h0M250.9 381.2h0M251.0 347.3h0M244.4 323.0h0M254.7 326.9h0M220.4 379.5h0M193.6 348.3h0M224.3 325.0h0M205.4 323.2h0M190.4 370.0h0M194.5 341.4h0M228.2 383.6h0M235.3 367.4h0M209.2 373.2h0M262.9 377.1h0M223.2 333.7h0M258.8 386.3h0M243.6 380.0h0M205.1 374.1h0M260.0 355.6h0M202.5 345.4h0M252.8 355.7h0M218.2 369.2h0M211.5 361.2h0M250.8 359.6h0M223.6 346.8h0M200.4 363.8h0M218.4 333.2h0M224.8 383.1h0M189.6 355.4h0M254.7 329.5h0M245.9 356.1h0M214.6 352.2h0M227.9 317.9h0M214.8 380.8h0M250.2 330.6h0M196.1 387.3h0M262.2 369.6h0M203.1 318.2h0M223.1 374.6h0M204.0 321.9h0M259.0 383.9h0M259.0 373.7h0M190.1 360.3h0M192.0 341.5h0M263.7 392.3h0M240.4 329.6h0M188.5 346.8h0M223.5 370.4h0M229.0 374.6h0M237.9 385.2h0M229.9 359.4h0M203.1 338.6h0M188.9 378.2h0M217.4 348.7h0M236.7 392.7h0" stroke="#de1616" stroke-width="1.7" stroke-linecap="round"/><path d="M194.7 350.5h0M236.9 343.4h0M217.1 375.1h0M207.5 359.8h0M224.4 356.3h0M218.3 330.7h0M201.8 378.2h0M189.8 366.7h0M244.2 374.0h0M244.0 330.4h0M235.7 322.7h0M202.5 374.8h0M187.4 330.2h0M193.2 374.0h0M213.3 319.1h0M247.3 375.0h0M214.9 362.0h0M238.6 338.2h0M256.9 392.9h0M207.2 365.2h0M193.6 376.8h0M199.8 327.9h0M225.8 358.4h0M221.2 330.2h0M193.9 387.2h0M203.6 348.6h0M235.9 327.9h0M203.0 340.8h0M221.2 354.0h0M225.0 379.3h0M233.8 355.9h0M249.3 368.4h0M193.8 365.2h0M242.5 338.5h0M249.1 318.7h0M236.0 390.3h0M251.9 363.0h0M221.3 358.9h0M201.4 349.3h0M251.1 350.7h0M206.1 339.3h0M188.7 342.9h0M241.7 373.7h0M214.0 392.3h0M260.5 378.2h0M252.3 330.4h0M263.0 336.6h0M216.5 341.0h0M259.5 322.2h0M228.0 342.9h0M235.2 387.1h0M194.3 345.4h0M223.9 365.0h0M202.5 356.3h0M217.5 378.0h0M253.9 357.8h0M198.7 319.2h0M215.7 346.7h0M239.9 347.9h0M239.1 331.8h0M244.0 355.6h0M206.4 391.0h0M196.4 345.6h0M199.3 351.1h0M218.8 386.8h0M226.0 364.4h0M257.3 351.0h0M258.7 325.1h0M241.2 356.7h0M187.1 365.9h0M227.7 377.8h0M209.9 340.1h0M206.6 385.3h0M226.6 367.6h0M198.0 333.1h0M196.7 368.0h0M251.0 317.9h0M239.6 387.4h0M252.6 369.3h0M196.9 341.1h0M209.1 352.6h0M219.7 393.2h0M221.2 344.9h0M234.0 371.7h0M225.2 320.1h0M202.6 368.6h0M198.5 330.5h0M201.1 393.0h0M194.9 385.1h0M246.1 383.3h0M246.9 325.5h0M195.1 322.2h0M195.5 353.8h0M208.5 317.0h0M231.4 378.3h0M263.6 367.8h0M260.2 370.4h0M262.6 326.3h0M209.4 383.9h0M202.0 387.2h0M247.4 380.9h0M233.1 332.7h0M187.0 341.7h0" stroke="#ff1919" stroke-width="1.7" stroke-linecap="round"/><rect x="253.8" y="391.70000000000005" width="9.5" height="2" fill="#e8e8e8"/><rect x="24.1" y="396.2" width="78.3" height="78.3" fill="#100014"/><path d="M87.7 407.3h0M79.0 434.3h0M89.9 432.2h0M29.3 419.0h0M25.1 410.8h0M38.0 414.1h0M91.2 436.7h0M95.4 407.5h0M53.1 398.5h0M69.5 407.3h0M48.9 430.7h0M48.5 405.0h0M46.4 429.8h0M36.4 420.4h0M30.3 456.7h0M98.7 471.1h0M31.3 454.8h0M45.6 423.5h0M59.9 471.2h0M91.8 420.1h0M92.1 399.6h0M87.8 431.2h0M52.7 473.2h0M68.9 452.3h0M38.8 443.6h0M71.2 462.3h0M29.0 429.8h0M41.1 424.2h0M33.6 424.0h0M85.6 427.6h0M32.4 425.9h0M35.6 411.9h0M79.1 437.9h0M27.2 430.8h0M52.2 413.5h0M25.0 412.7h0M65.4 442.5h0M78.8 473.7h0M58.0 425.5h0M31.6 421.2h0M83.2 440.2h0M46.7 438.8h0M85.8 434.4h0M47.9 451.6h0M52.4 471.0h0M64.2 450.7h0M69.7 431.5h0" stroke="#221eeb" stroke-width="1.7" stroke-linecap="round"/><path d="M39.3 411.8h0M30.5 463.0h0M95.1 424.6h0M44.3 454.2h0M87.9 396.9h0M41.7 428.6h0M25.6 454.9h0M28.1 461.4h0M90.4 466.3h0M36.3 463.6h0M72.1 460.2h0M33.0 416.8h0M51.0 420.7h0M49.7 435.9h0M53.5 422.6h0M49.9 467.9h0M65.8 419.6h0M71.5 473.3h0M54.2 412.0h0M99.9 434.8h0M81.1 458.5h0M48.8 397.4h0M72.5 469.8h0M25.6 461.3h0M75.7 463.8h0M27.9 435.4h0M43.0 459.6h0M53.0 438.9h0M99.7 442.6h0M79.0 405.7h0M100.1 405.4h0M58.6 415.6h0M92.7 468.9h0M27.7 468.2h0M91.2 428.4h0M93.8 427.6h0M33.6 438.8h0M75.0 424.9h0M56.7 465.8h0M64.1 458.1h0M73.4 441.1h0" stroke="#1715a4" stroke-width="1.7" stroke-linecap="round"/><path d="M97.1 443.4h0M44.2 398.8h0M67.6 429.2h0M58.9 463.4h0M44.0 402.1h0M43.6 466.7h0M67.5 420.9h0M50.8 412.1h0M25.3 419.9h0M95.2 461.6h0M54.2 469.8h0M84.5 405.5h0M75.3 448.0h0M96.7 421.0h0M38.3 461.3h0M46.0 416.9h0M29.4 402.7h0M81.5 412.3h0M30.1 397.0h0M56.4 470.4h0M89.9 400.6h0M60.9 468.3h0M67.0 397.9h0" stroke="#1d19ca" stroke-width="1.7" stroke-linecap="round"/><path d="M30.5 471.5h0M87.5 421.2h0M88.0 442.8h0M30.9 406.9h0M43.9 427.1h0M66.3 469.8h0M58.6 403.9h0M73.4 407.2h0M101.1 401.7h0M83.8 418.6h0M84.4 398.5h0M78.4 413.5h0M26.7 422.3h0M96.6 434.5h0M28.4 452.7h0M60.6 462.2h0M51.3 418.7h0M83.8 466.2h0M76.3 454.1h0M46.7 470.7h0M63.4 410.0h0M55.8 472.9h0M85.4 439.5h0M27.4 419.2h0M35.3 399.1h0M28.8 404.7h0M101.7 416.7h0M69.4 473.8h0M48.5 465.5h0M94.2 441.2h0M43.6 406.5h0M25.1 407.1h0M41.4 417.3h0M38.4 407.0h0M50.6 457.2h0M68.5 416.4h0M25.4 427.2h0M38.0 465.1h0M90.8 472.9h0M71.4 414.1h0M34.7 460.1h0M50.0 448.7h0M45.0 425.5h0M57.7 410.4h0M78.7 461.7h0M70.8 471.5h0M44.0 410.7h0M99.4 428.7h0M26.9 440.7h0M98.2 411.1h0M86.9 405.4h0M51.5 416.8h0M26.4 397.3h0M60.0 413.1h0M67.9 462.9h0M53.3 424.8h0M94.7 436.2h0M30.3 465.7h0M65.3 472.4h0M101.3 464.5h0M100.0 423.7h0M69.4 428.3h0M100.4 418.7h0M95.4 458.2h0M71.3 408.4h0M83.6 452.2h0M64.5 426.5h0M30.1 441.8h0M60.1 399.6h0" stroke="#840f6f" stroke-width="1.7" stroke-linecap="round"/><path d="M87.3 440.5h0M82.4 425.1h0M56.5 447.0h0M43.9 446.0h0M80.5 417.7h0M81.3 438.9h0M53.9 447.9h0M70.7 447.5h0M35.0 466.0h0M48.5 434.1h0M29.1 423.3h0M97.7 419.3h0M61.4 402.4h0M77.8 402.7h0M85.9 465.1h0M24.9 444.3h0M42.2 412.4h0M54.1 466.2h0M58.0 422.8h0M59.3 456.0h0M27.6 432.8h0M61.3 441.9h0M43.6 435.5h0M66.9 465.0h0M30.2 431.6h0M64.3 465.8h0M36.2 438.1h0M79.5 409.7h0M84.1 446.2h0M34.5 451.2h0M47.0 409.9h0M100.6 472.9h0M53.3 433.4h0M37.2 449.8h0M65.5 403.7h0M66.0 431.8h0M53.9 450.3h0M32.0 436.1h0M57.7 400.8h0M25.7 467.4h0M65.3 459.7h0M93.0 458.1h0M28.7 458.3h0M38.1 400.5h0M97.1 459.1h0M95.2 432.7h0M99.6 466.0h0M89.8 403.8h0M78.0 425.5h0M68.3 418.3h0M63.1 400.4h0M54.9 435.3h0M48.8 438.3h0M41.1 431.8h0M54.3 452.2h0M100.5 454.9h0M56.0 418.7h0M61.6 417.9h0M80.6 398.1h0M54.1 444.7h0M97.9 417.4h0M54.3 442.8h0M93.8 419.2h0M71.1 400.5h0M82.8 415.5h0M78.7 418.8h0" stroke="#f51dcd" stroke-width="1.7" stroke-linecap="round"/><path d="M52.3 435.6h0M36.9 405.2h0M74.4 472.7h0M75.7 409.5h0M77.5 436.4h0M33.2 406.7h0M65.6 414.0h0M25.1 435.8h0M64.0 402.5h0M94.6 470.5h0M81.2 444.1h0M41.7 403.3h0M94.7 415.4h0M81.5 419.8h0M57.6 432.3h0M59.0 398.1h0M26.2 414.9h0M28.7 450.7h0M41.0 445.1h0M95.9 401.6h0M29.6 411.0h0M86.5 437.8h0M28.4 413.2h0M31.6 458.5h0M74.7 402.9h0M77.5 429.9h0M62.1 445.2h0M73.8 456.8h0M55.1 459.1h0M77.0 449.3h0M72.5 424.3h0M61.3 405.9h0M84.0 463.7h0M51.8 407.4h0M57.2 453.9h0M85.1 420.6h0M63.3 405.2h0M74.0 436.9h0M34.8 440.4h0M35.8 444.1h0M92.5 422.4h0M60.9 432.5h0M55.1 456.1h0M88.8 412.0h0M93.8 412.1h0M42.9 442.8h0M89.5 410.0h0M101.5 398.0h0M53.5 405.1h0M32.8 448.1h0M41.9 439.0h0M51.4 424.1h0M58.4 407.8h0M88.0 415.9h0M87.6 461.7h0M36.8 456.2h0M71.5 466.7h0M97.5 429.2h0M70.9 457.2h0M48.2 414.9h0M28.2 400.0h0M38.5 458.7h0M94.1 398.3h0M53.8 417.1h0M62.3 430.6h0M59.5 420.6h0M38.6 470.5h0M90.8 463.9h0M49.2 399.6h0M74.9 460.8h0M46.4 473.4h0" stroke="#ab1490" stroke-width="1.7" stroke-linecap="round"/><path d="M50.7 473.0h0M92.0 432.6h0M81.8 470.9h0M44.1 421.1h0M99.7 463.1h0M89.3 429.6h0M33.9 472.8h0M26.0 438.0h0M92.0 448.2h0M94.8 467.9h0M26.3 473.7h0M56.3 404.9h0M85.0 449.9h0M32.9 412.7h0M36.9 441.6h0M48.5 456.8h0M78.8 465.0h0M30.8 449.3h0M88.7 451.6h0M81.8 428.6h0M91.7 451.2h0M68.7 468.5h0M55.9 421.0h0M73.2 420.4h0M93.1 405.4h0M47.5 448.8h0M34.7 431.3h0M66.6 422.9h0M33.8 464.1h0M39.7 408.6h0M55.5 462.1h0M37.6 409.3h0M40.7 463.3h0M71.3 433.6h0M43.2 457.7h0M54.1 414.3h0M61.3 473.8h0M50.6 409.6h0M62.2 398.7h0M85.8 418.6h0M98.9 402.5h0M26.8 442.9h0M60.5 465.7h0M76.9 456.1h0M50.9 463.6h0M53.1 457.3h0M86.1 455.6h0M27.5 470.6h0M24.9 471.9h0M48.7 416.9h0M68.6 396.8h0M55.2 409.2h0M50.7 442.8h0" stroke="#d319b0" stroke-width="1.7" stroke-linecap="round"/><rect x="95.2" y="471.6" width="6.2" height="2" fill="#e8e8e8"/><rect x="104.7" y="396.2" width="78.3" height="78.3" fill="#010116"/><path d="M111.1 471.5h0M132.9 435.6h0M117.5 405.2h0M168.1 421.2h0M111.5 406.9h0M163.0 425.1h0M119.9 411.8h0M139.2 403.9h0M161.8 444.1h0M172.6 432.6h0M175.7 424.6h0M159.6 434.3h0M181.7 401.7h0M164.4 418.6h0M109.9 419.0h0M124.9 454.2h0M106.8 414.9h0M180.3 463.1h0M129.1 434.1h0M110.2 411.0h0M177.2 434.5h0M176.0 407.5h0M172.6 448.2h0M175.4 467.9h0M155.3 402.9h0M158.1 429.9h0M150.1 407.3h0M105.9 419.9h0M158.4 402.7h0M154.4 456.8h0M130.3 435.9h0M129.5 430.7h0M166.0 439.5h0M113.5 412.7h0M108.0 419.2h0M117.5 441.6h0M105.5 444.3h0M138.6 422.8h0M111.4 449.3h0M129.1 465.5h0M117.0 420.4h0M122.0 417.3h0M119.0 407.0h0M143.9 405.2h0M116.8 438.1h0M153.1 469.8h0M106.2 461.3h0M126.2 423.5h0M115.1 451.2h0M181.2 472.9h0M117.8 449.8h0M172.3 451.2h0M108.5 435.4h0M119.4 443.6h0M169.4 412.0h0M123.5 442.8h0M109.6 429.8h0M133.6 438.9h0M124.6 410.7h0M118.7 400.5h0M107.5 440.7h0M134.1 405.1h0M180.2 466.0h0M114.2 424.0h0M170.4 403.8h0M178.8 411.1h0M113.4 448.1h0M166.2 427.6h0M132.1 416.8h0M159.6 405.7h0M148.9 418.3h0M159.7 437.9h0M143.7 400.4h0M168.2 461.7h0M139.2 415.6h0M137.0 470.4h0M123.8 457.7h0M108.3 468.2h0M171.8 428.4h0M142.2 417.9h0M174.4 427.6h0M161.2 398.1h0M174.7 398.3h0M134.4 417.1h0M179.5 402.5h0M178.5 417.4h0M107.4 442.9h0M181.0 418.7h0M170.5 400.6h0M151.7 400.5h0M163.4 415.5h0M155.6 424.9h0M171.4 463.9h0M151.9 408.4h0M108.1 470.6h0M164.2 452.2h0M159.3 418.8h0M135.8 409.2h0" stroke="#0e0eca" stroke-width="1.84" stroke-linecap="round"/><path d="M167.9 440.5h0M131.3 473.0h0M124.5 427.1h0M105.7 435.8h0M175.2 470.5h0M170.5 432.2h0M161.1 417.7h0M162.1 419.8h0M177.7 443.4h0M134.5 447.9h0M162.4 470.9h0M124.7 421.1h0M165.0 398.5h0M109.3 450.7h0M106.2 454.9h0M124.6 402.1h0M159.0 413.5h0M114.5 472.8h0M109.0 452.7h0M116.9 463.6h0M112.2 458.5h0M131.9 418.7h0M152.7 460.2h0M156.9 454.1h0M127.3 470.7h0M144.0 410.0h0M136.4 472.9h0M142.7 445.2h0M136.9 404.9h0M166.5 465.1h0M165.1 405.5h0M157.6 449.3h0M109.4 404.7h0M182.3 416.7h0M122.8 412.4h0M134.7 466.2h0M159.4 465.0h0M141.9 441.9h0M169.3 451.6h0M161.7 458.5h0M111.9 454.8h0M156.3 463.8h0M177.3 421.0h0M140.5 471.2h0M154.6 436.9h0M116.4 444.1h0M172.4 420.1h0M133.9 433.4h0M133.3 473.2h0M149.3 468.5h0M146.1 403.7h0M149.5 452.3h0M152.0 414.1h0M153.8 420.4h0M146.6 431.8h0M134.5 450.3h0M141.5 432.5h0M125.6 425.5h0M126.6 416.9h0M147.2 422.9h0M174.4 412.1h0M138.3 400.8h0M151.4 471.5h0M114.4 464.1h0M121.7 424.2h0M109.3 458.3h0M177.7 459.1h0M120.3 408.6h0M175.8 432.7h0M180.3 442.6h0M167.5 405.4h0M136.1 462.1h0M118.2 409.3h0M158.6 425.5h0M132.0 424.1h0M139.0 407.8h0M116.2 411.9h0M135.5 435.3h0M132.8 413.5h0M152.1 466.7h0M162.1 412.3h0M151.5 457.2h0M159.4 473.7h0M138.6 425.5h0M134.7 414.3h0M110.9 465.7h0M128.8 414.9h0M145.9 472.4h0M131.2 409.6h0M134.7 444.7h0M166.4 418.6h0M176.0 458.2h0M142.9 430.6h0M141.1 465.7h0M131.5 463.6h0M166.4 434.4h0M133.7 457.3h0M166.7 455.6h0M137.3 465.8h0M105.5 471.9h0M141.5 468.3h0M127.0 473.4h0M144.8 450.7h0M154.0 441.1h0M145.1 426.5h0M140.7 399.6h0M150.3 431.5h0" stroke="#0c0cae" stroke-width="1.84" stroke-linecap="round"/><path d="M168.3 407.3h0M168.6 442.8h0M113.8 406.7h0M146.9 469.8h0M144.6 402.5h0M161.9 438.9h0M124.8 398.8h0M148.2 429.2h0M151.3 447.5h0M139.5 463.4h0M138.2 432.3h0M168.5 396.9h0M122.3 428.6h0M121.6 445.1h0M176.5 401.6h0M109.7 423.3h0M169.9 429.6h0M108.7 461.4h0M171.0 466.3h0M167.1 437.8h0M171.8 436.7h0M107.3 422.3h0M178.3 419.3h0M124.2 466.7h0M141.2 462.2h0M133.7 398.5h0M131.4 412.1h0M164.4 466.2h0M113.6 416.8h0M131.6 420.7h0M142.0 402.4h0M134.8 469.8h0M153.1 424.3h0M115.9 399.1h0M127.0 429.8h0M129.1 456.8h0M150.0 473.8h0M130.5 467.9h0M174.8 441.2h0M155.9 448.0h0M139.9 456.0h0M152.1 473.3h0M108.2 432.8h0M132.4 407.4h0M179.3 471.1h0M137.8 453.9h0M124.2 435.5h0M129.4 397.4h0M147.5 465.0h0M131.2 457.2h0M144.9 465.8h0M106.0 427.2h0M118.6 465.1h0M164.7 446.2h0M127.6 409.9h0M172.7 399.6h0M168.4 431.2h0M136.5 421.0h0M118.9 461.3h0M130.6 448.7h0M151.8 462.3h0M135.7 456.1h0M123.6 459.6h0M173.7 405.4h0M112.6 436.1h0M173.6 458.1h0M170.1 410.0h0M121.3 463.3h0M168.6 415.9h0M117.4 456.2h0M107.0 397.3h0M146.0 442.5h0M140.6 413.1h0M148.5 462.9h0M173.3 468.9h0M133.9 424.8h0M112.2 421.2h0M141.9 473.8h0M181.9 464.5h0M142.8 398.7h0M114.2 438.8h0M119.2 470.5h0M157.5 456.1h0M129.8 399.6h0M128.5 451.6h0M144.7 458.1h0M129.3 416.9h0M110.7 441.8h0M149.2 396.8h0" stroke="#1010e6" stroke-width="1.84" stroke-linecap="round"/><path d="M155.0 472.7h0M156.3 409.5h0M158.1 436.4h0M146.2 414.0h0M137.1 447.0h0M111.1 463.0h0M124.5 446.0h0M122.3 403.3h0M154.0 407.2h0M175.3 415.4h0M139.6 398.1h0M115.6 466.0h0M105.7 410.8h0M118.6 414.1h0M148.1 420.9h0M106.6 438.0h0M109.0 413.2h0M106.9 473.7h0M175.8 461.6h0M165.6 449.9h0M135.7 459.1h0M129.1 405.0h0M134.1 422.6h0M141.9 405.9h0M146.4 419.6h0M164.6 463.7h0M124.2 406.5h0M134.8 412.0h0M110.9 456.7h0M105.7 407.1h0M180.5 434.8h0M165.7 420.6h0M162.4 428.6h0M110.8 431.6h0M149.1 416.4h0M115.4 440.4h0M160.1 409.7h0M171.4 472.9h0M115.3 460.1h0M173.1 422.4h0M128.1 448.8h0M115.3 431.3h0M138.3 410.4h0M159.3 461.7h0M106.3 467.4h0M145.9 459.7h0M180.0 428.7h0M182.1 398.0h0M122.5 439.0h0M113.0 425.9h0M110.0 402.7h0M107.8 430.8h0M180.7 405.4h0M151.9 433.6h0M129.4 438.3h0M110.7 397.0h0M105.6 412.7h0M178.1 429.2h0M121.7 431.8h0M134.9 452.2h0M175.3 436.2h0M181.1 454.9h0M136.6 418.7h0M108.8 400.0h0M119.1 458.7h0M163.8 440.2h0M180.6 423.7h0M134.9 442.8h0M150.0 428.3h0M174.4 419.2h0M140.1 420.6h0M127.3 438.8h0M155.5 460.8h0M133.0 471.0h0M147.6 397.9h0M131.3 442.8h0" stroke="#0a0a93" stroke-width="1.84" stroke-linecap="round"/><rect x="175.8" y="471.6" width="6.2" height="2" fill="#e8e8e8"/><rect x="186.0" y="396.2" width="78.3" height="78.3" fill="#140000"/><path d="M192.4 471.5h0M236.3 472.7h0M195.1 406.7h0M205.8 427.1h0M220.5 403.9h0M242.4 417.7h0M215.8 447.9h0M206.0 421.1h0M246.3 398.5h0M190.6 450.7h0M191.0 423.3h0M195.8 472.8h0M190.3 452.7h0M253.9 448.2h0M222.5 462.2h0M223.3 402.4h0M188.2 473.7h0M217.7 472.9h0M247.3 439.5h0M238.9 449.3h0M198.8 441.6h0M263.6 416.7h0M204.1 412.4h0M240.7 465.0h0M231.3 473.8h0M210.4 465.5h0M205.5 406.5h0M187.0 407.1h0M205.5 435.5h0M230.4 416.4h0M230.6 468.5h0M233.3 414.1h0M206.9 425.5h0M209.4 448.8h0M228.5 422.9h0M232.7 471.5h0M204.8 442.8h0M195.7 464.1h0M254.9 458.1h0M190.6 458.3h0M263.4 398.0h0M215.4 405.1h0M261.5 466.0h0M213.3 424.1h0M220.3 407.8h0M202.6 463.3h0M221.9 413.1h0M229.8 462.9h0M216.2 452.2h0M192.2 465.7h0M210.1 414.9h0M227.2 472.4h0M223.2 473.8h0M256.0 398.3h0M215.7 417.1h0M259.8 417.4h0M244.7 415.5h0M252.7 463.9h0M186.8 471.9h0M245.5 452.2h0M236.8 460.8h0M208.3 473.4h0M192.0 441.8h0M217.1 409.2h0" stroke="#9f0f0f" stroke-width="1.7" stroke-linecap="round"/><path d="M249.2 440.5h0M214.2 435.6h0M249.4 421.2h0M249.9 442.8h0M192.8 406.9h0M244.3 425.1h0M237.6 409.5h0M228.2 469.8h0M187.0 435.8h0M256.5 470.5h0M243.1 444.1h0M203.6 403.3h0M263.0 401.7h0M243.4 419.8h0M243.2 438.9h0M243.7 470.9h0M232.6 447.5h0M188.1 414.9h0M191.5 411.0h0M248.4 437.8h0M188.6 422.3h0M190.3 413.2h0M193.5 458.5h0M245.7 466.2h0M208.6 470.7h0M225.3 410.0h0M239.7 402.7h0M219.9 422.8h0M192.7 449.3h0M223.2 405.9h0M221.2 456.0h0M245.9 463.7h0M223.2 441.9h0M228.8 465.0h0M192.1 431.6h0M226.2 465.8h0M198.1 438.1h0M235.9 436.9h0M187.3 427.2h0M215.2 433.4h0M199.1 449.8h0M252.7 472.9h0M253.6 451.2h0M227.9 431.8h0M219.6 410.4h0M205.9 410.7h0M251.4 410.0h0M188.8 440.7h0M257.1 432.7h0M260.1 411.1h0M239.9 425.5h0M249.9 415.9h0M233.4 466.7h0M188.3 397.3h0M259.4 429.2h0M262.4 454.9h0M190.1 400.0h0M200.4 458.7h0M212.5 409.6h0M242.5 398.1h0M216.0 444.7h0M224.1 398.7h0M261.9 423.7h0M260.8 402.5h0M221.4 420.6h0M200.5 470.5h0M212.8 463.6h0M210.6 416.9h0M226.4 426.5h0M222.0 399.6h0" stroke="#7b0c0c" stroke-width="1.7" stroke-linecap="round"/><path d="M198.8 405.2h0M212.6 473.0h0M218.4 447.0h0M225.9 402.5h0M253.9 432.6h0M235.3 407.2h0M245.7 418.6h0M219.5 432.3h0M220.9 398.1h0M196.9 466.0h0M257.8 401.6h0M261.6 463.1h0M210.4 434.1h0M251.2 429.6h0M187.9 438.0h0M256.7 467.9h0M239.4 429.9h0M218.2 404.9h0M247.8 465.1h0M246.9 449.9h0M194.8 412.7h0M190.7 404.7h0M250.6 451.6h0M219.1 453.9h0M247.0 420.6h0M243.7 428.6h0M196.7 440.4h0M199.9 465.1h0M197.7 444.1h0M196.4 451.2h0M262.5 472.9h0M235.1 420.4h0M222.8 432.5h0M255.0 405.4h0M196.6 431.3h0M193.9 436.1h0M240.6 461.7h0M261.3 428.7h0M259.0 459.1h0M201.6 408.6h0M251.7 403.8h0M217.4 462.1h0M203.8 439.0h0M230.2 418.3h0M225.0 400.4h0M233.2 433.6h0M249.5 461.7h0M203.0 431.8h0M232.8 457.2h0M215.2 424.8h0M256.6 436.2h0M216.0 414.3h0M247.7 418.6h0M188.7 442.9h0M231.3 428.3h0M224.2 430.6h0M233.0 400.5h0M222.4 465.7h0M215.0 457.3h0M248.0 455.6h0" stroke="#e41616" stroke-width="1.7" stroke-linecap="round"/><path d="M239.4 436.4h0M227.5 414.0h0M205.8 446.0h0M256.6 415.4h0M202.9 445.1h0M240.3 413.5h0M259.6 419.3h0M258.5 434.5h0M213.2 418.7h0M236.6 402.9h0M238.2 454.1h0M224.0 445.2h0M235.7 456.8h0M217.0 459.1h0M234.4 424.3h0M189.3 419.2h0M197.2 399.1h0M186.8 444.3h0M210.4 456.8h0M216.0 466.2h0M256.1 441.2h0M189.5 432.8h0M213.7 407.4h0M203.3 417.3h0M200.3 407.0h0M225.2 405.2h0M212.5 457.2h0M241.4 409.7h0M246.0 446.2h0M208.9 409.9h0M227.4 403.7h0M217.8 421.0h0M196.6 460.1h0M211.9 448.7h0M254.4 422.4h0M215.8 450.3h0M217.0 456.1h0M250.7 412.0h0M255.7 412.1h0M219.6 400.8h0M187.6 467.4h0M227.2 459.7h0M200.0 400.5h0M248.8 405.4h0M194.7 448.1h0M199.5 409.3h0M213.4 416.8h0M216.8 435.3h0M198.7 456.2h0M210.7 438.3h0M205.1 457.7h0M217.9 418.7h0M223.5 417.9h0M263.2 464.5h0M216.2 442.8h0M255.7 419.2h0M262.3 418.7h0M257.3 458.2h0M238.8 456.1h0M211.1 399.6h0M233.2 408.4h0M189.4 470.6h0M240.6 418.8h0M230.5 396.8h0M212.6 442.8h0" stroke="#c41313" stroke-width="1.7" stroke-linecap="round"/><rect x="257.1" y="471.6" width="6.2" height="2" fill="#e8e8e8"/><rect x="24.1" y="476.3" width="78.3" height="78.3" fill="#100014"/><path d="M68.8 518.4h0M96.2 548.2h0M28.7 541.2h0M60.2 481.5h0M32.2 518.2h0M76.6 519.4h0M31.7 492.1h0M28.5 523.8h0M61.5 504.7h0M100.0 512.7h0M33.2 533.0h0M66.4 523.3h0M99.4 491.7h0M88.7 513.2h0M87.4 518.0h0M33.9 496.0h0M40.1 519.9h0M49.3 501.7h0M58.2 545.4h0M87.8 539.5h0M40.2 505.4h0M43.4 486.6h0M32.2 483.7h0M38.9 532.1h0M63.2 510.5h0M99.2 510.9h0M65.7 508.9h0M50.3 497.1h0M47.4 511.8h0M71.2 489.9h0M81.5 518.1h0M42.5 511.0h0M40.1 499.1h0M46.9 501.3h0M57.1 512.3h0M74.6 537.6h0M84.7 546.6h0M99.3 522.9h0M86.7 547.9h0M87.8 532.8h0M78.8 524.8h0M71.8 495.4h0M40.7 478.5h0M60.9 499.6h0M87.1 524.4h0M40.3 482.1h0M50.2 495.0h0M96.3 485.0h0M101.8 489.6h0M98.5 543.0h0" stroke="#221eeb" stroke-width="1.7" stroke-linecap="round"/><path d="M52.3 525.2h0M47.4 504.0h0M53.3 550.7h0M53.5 507.9h0M94.1 480.7h0M92.9 533.2h0M35.4 487.0h0M43.0 496.0h0M80.4 510.6h0M71.5 539.3h0M63.9 542.3h0M33.3 525.1h0M36.2 483.7h0M82.0 500.3h0M59.0 540.8h0M100.7 481.1h0M26.1 493.8h0M98.5 538.0h0M71.5 503.5h0M43.1 540.7h0M93.9 517.7h0M99.1 524.8h0M100.9 496.9h0M52.3 487.7h0M90.3 540.4h0M43.7 531.0h0M43.0 529.2h0M73.9 505.5h0M69.4 511.7h0M96.8 552.0h0M66.3 514.3h0M31.0 543.9h0M28.9 520.9h0M39.6 525.2h0M53.0 485.3h0M77.0 502.2h0M69.2 525.1h0M46.6 524.1h0M61.3 494.2h0M26.6 531.9h0M56.7 486.5h0M34.5 526.8h0M79.8 550.1h0M86.6 520.0h0M89.2 498.1h0M97.1 535.4h0M96.4 539.9h0M48.9 546.0h0M32.4 538.4h0M52.9 528.0h0M72.7 513.7h0M90.7 549.5h0M58.5 521.1h0M59.2 530.3h0M32.6 510.1h0M98.2 480.2h0M27.1 481.7h0M62.5 482.4h0M81.2 545.0h0M48.5 524.5h0M53.0 511.3h0M84.9 499.4h0M86.9 500.2h0M72.2 518.0h0M68.7 536.5h0M33.3 477.4h0M93.7 550.0h0" stroke="#1715a4" stroke-width="1.7" stroke-linecap="round"/><path d="M40.5 549.4h0M49.4 543.2h0M34.1 516.3h0M43.7 544.0h0M48.7 527.8h0M60.6 547.1h0M52.7 501.8h0M35.8 541.6h0M92.4 490.6h0M77.1 532.2h0M75.1 512.3h0M75.4 488.4h0M79.7 539.5h0M92.3 546.7h0M100.3 551.8h0M96.2 487.5h0M92.3 544.4h0M60.0 539.0h0M99.6 540.1h0M33.8 544.6h0M98.8 553.5h0M94.4 483.1h0M66.4 516.3h0M100.1 487.0h0M28.6 496.2h0M44.4 512.5h0M70.8 514.3h0M56.2 551.7h0M26.6 543.2h0M71.4 530.4h0M47.1 483.3h0M29.6 528.7h0M100.6 508.2h0M28.1 550.5h0M25.7 538.6h0M51.1 540.1h0M56.8 534.9h0M72.0 479.1h0M41.1 497.1h0M44.4 524.1h0M94.7 489.8h0M56.0 531.2h0M97.9 546.6h0M53.0 491.4h0M74.7 509.2h0M95.5 527.6h0M30.7 486.6h0" stroke="#1d19ca" stroke-width="1.7" stroke-linecap="round"/><path d="M77.4 539.8h0M74.0 518.7h0M32.7 480.4h0M60.1 544.1h0M78.0 543.7h0M52.2 529.8h0M47.0 545.2h0M58.7 508.2h0M36.0 537.0h0M51.5 521.0h0M70.9 480.7h0M49.8 529.7h0M97.1 494.5h0M64.0 521.6h0M32.2 541.8h0M81.2 523.5h0M56.8 543.6h0M73.4 533.8h0M81.4 504.1h0M84.5 483.5h0M61.2 496.6h0M82.6 506.5h0M70.3 499.9h0M78.5 529.1h0M91.3 497.0h0M51.3 504.4h0M54.3 486.9h0M57.5 529.0h0M40.6 501.0h0M77.5 550.3h0M68.1 509.6h0M100.1 529.1h0M53.7 519.0h0M64.8 481.6h0M58.1 532.9h0M96.6 506.1h0M72.1 525.4h0M62.4 550.4h0M45.5 508.2h0M52.5 553.5h0M31.1 482.0h0M30.9 530.3h0M37.5 477.7h0M50.1 489.7h0M81.7 548.3h0M26.2 521.1h0M33.1 547.7h0M57.8 524.1h0M32.8 528.9h0M74.3 552.1h0M44.5 527.9h0M80.2 505.5h0M70.1 483.0h0M75.0 522.0h0M77.6 537.5h0M39.9 543.9h0M90.5 531.6h0M72.6 507.5h0M28.7 490.4h0M31.0 502.4h0M59.3 486.5h0M40.1 517.8h0M77.4 497.4h0M62.8 488.9h0M30.2 522.3h0M26.2 519.0h0M55.3 483.4h0" stroke="#7e0f69" stroke-width="1.7" stroke-linecap="round"/><path d="M94.2 552.5h0M93.4 542.2h0M77.2 493.0h0M49.1 484.4h0M66.7 528.3h0M76.3 486.0h0M74.5 483.0h0M68.3 493.0h0M38.4 497.7h0M72.4 511.5h0M47.3 518.8h0M37.8 546.1h0M87.8 537.1h0M95.2 504.3h0M53.6 495.1h0M37.2 522.7h0M32.3 552.7h0M28.9 485.9h0M57.8 548.9h0M69.3 503.6h0M36.1 517.2h0M46.7 539.2h0M43.3 537.8h0M65.7 518.8h0M44.3 482.6h0M99.9 483.1h0M87.1 514.5h0M85.0 507.9h0M100.1 548.1h0M30.1 551.2h0M71.1 485.5h0M53.1 536.1h0M26.2 497.2h0M35.3 478.4h0M26.6 527.9h0M95.2 510.2h0M63.9 485.8h0M88.5 480.6h0" stroke="#c918a8" stroke-width="1.7" stroke-linecap="round"/><path d="M27.7 547.2h0M38.0 553.1h0M88.8 542.9h0M89.0 504.7h0M98.8 516.1h0M77.2 512.4h0M52.4 538.7h0M49.4 507.3h0M57.9 497.9h0M37.7 533.9h0M49.8 516.6h0M96.2 501.2h0M40.5 493.4h0M94.4 492.8h0M56.7 480.3h0M62.6 524.8h0M69.8 505.4h0M71.3 528.4h0M85.4 531.1h0M42.4 550.0h0M68.6 520.3h0M26.0 488.2h0M25.4 503.8h0M61.6 531.8h0M92.4 477.7h0M50.8 547.0h0M77.2 508.1h0M79.8 514.0h0M89.0 545.7h0M48.5 549.3h0M78.2 480.8h0M79.5 498.9h0M99.8 493.7h0M82.9 543.3h0M92.7 540.1h0M55.9 518.3h0M65.5 525.8h0M88.6 508.4h0M80.5 521.4h0M77.1 477.3h0M100.1 500.4h0M82.3 478.9h0M65.5 497.8h0M36.6 543.9h0M36.3 507.4h0M65.2 492.8h0M49.2 510.1h0" stroke="#a31389" stroke-width="1.7" stroke-linecap="round"/><path d="M45.1 516.3h0M61.6 527.0h0M89.6 552.3h0M59.9 484.3h0M46.1 481.5h0M91.2 537.4h0M75.7 525.3h0M50.0 537.6h0M96.8 503.2h0M40.7 491.4h0M60.6 509.8h0M40.0 528.8h0M56.6 493.8h0M82.6 537.1h0M27.5 552.9h0M37.7 492.4h0M64.9 500.8h0M42.0 488.2h0M39.7 489.1h0M64.7 505.3h0M66.7 478.5h0M55.2 505.0h0M63.3 537.1h0M63.0 515.0h0M25.6 478.2h0M49.1 492.1h0M84.3 524.0h0M41.9 543.0h0M75.3 529.6h0M42.7 534.6h0M60.5 489.2h0M30.1 537.5h0M43.1 553.4h0M97.0 492.4h0M99.3 520.1h0M53.8 514.0h0M85.3 513.2h0M60.5 502.9h0M96.4 512.0h0M37.9 520.3h0M41.8 484.9h0M100.4 532.9h0M93.1 514.8h0M46.9 527.1h0M74.8 492.0h0M54.7 545.5h0M62.3 545.9h0M59.2 526.0h0M39.8 546.4h0M65.8 546.4h0M93.5 503.3h0M75.5 516.5h0M79.4 502.1h0M54.3 533.9h0" stroke="#ea1cc4" stroke-width="1.7" stroke-linecap="round"/><rect x="95.2" y="551.7" width="6.2" height="2" fill="#e8e8e8"/><rect x="104.7" y="476.3" width="78.3" height="78.3" fill="#010116"/><path d="M158.0 539.8h0M132.9 525.2h0M174.8 552.5h0M121.1 549.4h0M157.8 493.0h0M109.3 541.2h0M129.7 484.4h0M147.3 528.3h0M174.7 480.7h0M127.6 545.2h0M169.4 542.9h0M169.6 504.7h0M112.8 518.2h0M157.2 519.4h0M141.2 547.1h0M112.3 492.1h0M132.1 521.0h0M130.4 516.6h0M133.3 501.8h0M156.3 525.3h0M130.6 537.6h0M177.4 503.2h0M144.5 542.3h0M121.1 493.4h0M141.2 509.8h0M162.6 500.3h0M139.6 540.8h0M120.6 528.8h0M175.0 492.8h0M162.0 504.1h0M169.3 513.2h0M137.3 480.3h0M168.0 518.0h0M179.1 538.0h0M143.2 524.8h0M152.1 503.5h0M118.3 492.4h0M131.9 504.4h0M122.6 488.2h0M132.9 487.7h0M168.4 539.5h0M112.8 483.7h0M170.9 540.4h0M180.9 551.8h0M176.8 487.5h0M135.8 505.0h0M124.3 531.0h0M143.9 537.1h0M112.9 552.7h0M149.2 520.3h0M138.4 548.9h0M106.6 488.2h0M154.5 505.5h0M179.8 510.9h0M145.4 481.6h0M149.9 503.6h0M138.7 532.9h0M111.6 543.9h0M172.9 544.4h0M131.4 547.0h0M155.9 529.6h0M130.9 497.1h0M157.6 502.2h0M162.1 518.1h0M127.2 524.1h0M179.4 553.5h0M123.1 511.0h0M110.7 537.5h0M160.4 550.1h0M177.7 535.4h0M155.2 537.6h0M118.1 477.7h0M160.4 514.0h0M147.0 516.3h0M134.4 514.0h0M129.5 546.0h0M165.9 513.2h0M113.0 538.4h0M169.6 545.7h0M138.4 524.1h0M179.9 522.9h0M180.7 548.1h0M139.8 530.3h0M159.4 524.8h0M110.7 551.2h0M146.1 525.8h0M141.5 499.6h0M110.2 528.7h0M169.2 508.4h0M130.8 495.0h0M106.3 538.6h0M137.4 534.9h0M176.9 485.0h0M152.6 479.1h0M155.4 492.0h0M135.3 545.5h0M115.9 478.4h0M109.3 490.4h0M165.5 499.4h0M107.2 527.9h0M175.3 489.8h0M158.0 497.4h0M167.5 500.2h0M174.1 503.3h0M169.1 480.6h0M156.1 516.5h0M152.8 518.0h0M149.3 536.5h0M182.4 489.6h0M176.1 527.6h0M145.8 492.8h0M129.8 510.1h0M160.0 502.1h0M174.3 550.0h0" stroke="#0f0fdf" stroke-width="1.84" stroke-linecap="round"/><path d="M149.4 518.4h0M130.0 543.2h0M118.6 553.1h0M154.6 518.7h0M113.3 480.4h0M158.6 543.7h0M133.9 550.7h0M124.3 544.0h0M139.3 508.2h0M140.5 484.3h0M153.0 511.5h0M126.7 481.5h0M176.8 501.2h0M130.4 529.7h0M161.8 523.5h0M147.0 523.3h0M116.4 541.6h0M181.3 481.1h0M118.4 546.1h0M165.1 483.5h0M141.8 496.6h0M123.7 540.7h0M168.4 537.1h0M108.1 552.9h0M150.4 505.4h0M171.9 497.0h0M145.5 500.8h0M134.9 486.9h0M134.2 495.1h0M120.8 505.4h0M124.0 486.6h0M172.9 546.7h0M119.5 532.1h0M123.0 550.0h0M146.3 508.9h0M106.0 503.8h0M142.2 531.8h0M106.2 478.2h0M129.7 492.1h0M122.5 543.0h0M180.2 540.1h0M109.5 520.9h0M127.3 539.2h0M146.3 518.8h0M107.2 531.9h0M124.9 482.6h0M126.1 508.2h0M133.1 553.5h0M177.6 492.4h0M179.9 520.1h0M169.8 498.1h0M177.0 539.9h0M129.1 549.3h0M125.0 512.5h0M133.5 528.0h0M106.8 521.1h0M151.4 514.3h0M153.3 513.7h0M113.4 528.9h0M154.9 552.1h0M177.0 512.0h0M152.4 495.4h0M173.3 540.1h0M107.7 481.7h0M127.7 483.3h0M136.5 518.3h0M151.7 485.5h0M150.7 483.0h0M181.0 532.9h0M120.9 482.1h0M143.1 482.4h0M161.8 545.0h0M158.2 537.5h0M139.9 486.5h0M120.7 517.8h0M175.8 510.2h0M136.6 531.2h0M155.3 509.2h0M111.3 486.6h0M106.8 519.0h0M135.9 483.4h0M179.1 543.0h0" stroke="#0b0ba2" stroke-width="1.84" stroke-linecap="round"/><path d="M128.0 504.0h0M125.7 516.3h0M114.7 516.3h0M156.9 486.0h0M132.8 529.8h0M140.8 481.5h0M170.2 552.3h0M119.0 497.7h0M161.0 510.6h0M138.5 497.9h0M152.1 539.3h0M118.3 533.9h0M177.7 494.5h0M112.8 541.8h0M113.9 525.1h0M113.8 533.0h0M180.0 491.7h0M154.0 533.8h0M114.5 496.0h0M106.7 493.8h0M163.2 506.5h0M157.7 532.2h0M150.9 499.9h0M120.7 519.9h0M160.3 539.5h0M138.8 545.4h0M121.2 501.0h0M120.3 489.1h0M151.9 528.4h0M123.6 529.2h0M180.7 529.1h0M143.6 515.0h0M166.0 531.1h0M134.3 519.0h0M150.0 511.7h0M116.7 517.2h0M146.9 514.3h0M173.0 477.7h0M128.0 511.8h0M123.9 537.8h0M120.2 525.2h0M133.6 485.3h0M123.3 534.6h0M157.8 508.1h0M120.7 499.1h0M175.0 483.1h0M123.7 553.4h0M127.5 501.3h0M111.7 482.0h0M167.2 520.0h0M165.3 546.6h0M162.3 548.3h0M109.2 496.2h0M113.7 547.7h0M107.2 543.2h0M160.1 498.9h0M171.3 549.5h0M167.3 547.9h0M152.0 530.4h0M139.1 521.1h0M180.4 493.7h0M113.2 510.1h0M160.8 505.5h0M167.7 524.4h0M173.7 514.8h0M127.5 527.1h0M181.2 508.2h0M161.1 521.4h0M108.7 550.5h0M120.5 543.9h0M131.7 540.1h0M106.8 497.2h0M129.1 524.5h0M142.9 545.9h0M180.7 500.4h0M111.6 502.4h0M120.4 546.4h0M125.0 524.1h0M162.9 478.9h0M144.5 485.8h0M113.9 477.4h0M134.9 533.9h0" stroke="#1111fe" stroke-width="1.84" stroke-linecap="round"/><path d="M174.0 542.2h0M108.3 547.2h0M176.8 548.2h0M142.2 527.0h0M140.7 544.1h0M134.1 507.9h0M155.1 483.0h0M129.3 527.8h0M148.9 493.0h0M173.5 533.2h0M179.4 516.1h0M116.0 487.0h0M116.6 537.0h0M157.8 512.4h0M133.0 538.7h0M130.0 507.3h0M109.1 523.8h0M123.6 496.0h0M151.5 480.7h0M142.1 504.7h0M171.8 537.4h0M144.6 521.6h0M180.6 512.7h0M121.3 491.4h0M116.8 483.7h0M127.9 518.8h0M173.0 490.6h0M137.4 543.6h0M155.7 512.3h0M156.0 488.4h0M174.5 517.7h0M137.2 493.8h0M159.1 529.1h0M179.7 524.8h0M163.2 537.1h0M181.5 496.9h0M129.9 501.7h0M175.8 504.3h0M138.1 529.0h0M117.8 522.7h0M158.1 550.3h0M145.3 505.3h0M147.3 478.5h0M143.8 510.5h0M148.7 509.6h0M109.5 485.9h0M177.4 552.0h0M164.9 524.0h0M140.6 539.0h0M151.8 489.9h0M149.8 525.1h0M141.9 494.2h0M114.4 544.6h0M177.2 506.1h0M141.1 489.2h0M137.3 486.5h0M115.1 526.8h0M152.7 525.4h0M143.0 550.4h0M137.7 512.3h0M111.5 530.3h0M130.7 489.7h0M180.7 487.0h0M141.1 502.9h0M158.8 480.8h0M136.8 551.7h0M180.5 483.1h0M167.7 514.5h0M165.6 507.9h0M168.4 532.8h0M163.5 543.3h0M178.8 480.2h0M125.1 527.9h0M118.5 520.3h0M122.4 484.9h0M121.3 478.5h0M155.6 522.0h0M133.7 536.1h0M157.7 477.3h0M171.1 531.6h0M153.2 507.5h0M121.7 497.1h0M133.6 511.3h0M139.8 526.0h0M146.4 546.4h0M178.5 546.6h0M133.6 491.4h0M146.1 497.8h0M117.2 543.9h0M116.9 507.4h0M143.4 488.9h0M110.8 522.3h0" stroke="#0d0dc1" stroke-width="1.84" stroke-linecap="round"/><rect x="175.8" y="551.7" width="6.2" height="2" fill="#e8e8e8"/><rect x="186.0" y="476.3" width="78.3" height="78.3" fill="#140000"/><path d="M239.3 539.8h0M239.1 493.0h0M189.6 547.2h0M199.9 553.1h0M238.2 486.0h0M239.9 543.7h0M230.2 493.0h0M197.9 537.0h0M239.1 512.4h0M214.3 538.7h0M208.0 481.5h0M213.4 521.0h0M211.9 537.6h0M223.1 496.6h0M213.2 504.4h0M215.5 495.1h0M228.6 478.5h0M225.2 537.1h0M194.2 552.7h0M198.0 517.2h0M254.3 477.7h0M211.0 492.1h0M204.6 534.6h0M192.0 537.5h0M207.4 508.2h0M193.0 482.0h0M210.4 549.3h0M194.7 528.9h0M236.2 552.1h0M254.6 540.1h0M217.8 518.3h0M232.0 483.0h0M250.5 508.4h0M236.9 522.0h0M239.0 477.3h0M201.8 543.9h0M197.2 478.4h0M192.9 502.4h0M257.1 510.2h0M211.1 510.1h0M217.2 483.4h0" stroke="#c01313" stroke-width="1.7" stroke-linecap="round"/><path d="M256.1 552.5h0M207.0 516.3h0M194.6 480.4h0M228.6 528.3h0M250.7 542.9h0M260.7 516.1h0M220.6 508.2h0M221.8 484.3h0M199.6 533.9h0M258.1 501.2h0M253.1 537.4h0M237.6 525.3h0M202.4 493.4h0M209.2 518.8h0M243.3 504.1h0M218.6 480.3h0M249.7 537.1h0M189.4 552.9h0M231.7 505.4h0M226.8 500.8h0M199.1 522.7h0M233.2 528.4h0M187.5 478.2h0M246.2 524.0h0M212.7 547.0h0M208.6 539.2h0M205.2 537.8h0M234.0 525.4h0M224.3 550.4h0M199.4 477.7h0M212.0 489.7h0M243.6 548.3h0M222.4 502.9h0M241.4 498.9h0M262.0 548.1h0M261.7 493.7h0M244.8 543.3h0M206.4 527.9h0M227.4 525.8h0M208.8 527.1h0M252.4 531.6h0M190.6 490.4h0M221.2 486.5h0M202.0 517.8h0M250.4 480.6h0M237.4 516.5h0M198.2 507.4h0M227.1 492.8h0M224.7 488.9h0M241.3 502.1h0M188.1 519.0h0" stroke="#670a0a" stroke-width="1.7" stroke-linecap="round"/><path d="M255.3 542.2h0M223.5 527.0h0M214.1 529.8h0M234.3 511.5h0M219.8 497.9h0M211.7 516.6h0M225.9 521.6h0M218.7 543.6h0M201.9 528.8h0M244.5 506.5h0M232.2 499.9h0M218.5 493.8h0M244.5 537.1h0M257.1 504.3h0M216.2 486.9h0M203.9 488.2h0M202.5 501.0h0M226.6 505.3h0M217.1 505.0h0M247.3 531.1h0M204.3 550.0h0M230.5 520.3h0M215.6 519.0h0M187.9 488.2h0M226.7 481.6h0M223.5 531.8h0M220.0 532.9h0M258.5 506.1h0M206.2 482.6h0M222.4 489.2h0M205.0 553.4h0M258.9 492.4h0M261.2 520.1h0M192.8 530.3h0M247.2 513.2h0M250.9 545.7h0M188.1 521.1h0M261.8 483.1h0M195.0 547.7h0M219.7 524.1h0M249.0 514.5h0M192.0 551.2h0M199.8 520.3h0M233.0 485.5h0M255.0 514.8h0M242.4 521.4h0M215.0 536.1h0M239.5 537.5h0M236.7 492.0h0M216.6 545.5h0M224.2 545.9h0M262.0 500.4h0M244.2 478.9h0M227.4 497.8h0M225.8 485.8h0M192.1 522.3h0M216.2 533.9h0" stroke="#a51010" stroke-width="1.7" stroke-linecap="round"/><path d="M235.9 518.7h0M211.0 484.4h0M222.0 544.1h0M236.4 483.0h0M208.9 545.2h0M250.9 504.7h0M251.5 552.3h0M211.3 507.3h0M200.3 497.7h0M232.8 480.7h0M211.7 529.7h0M259.0 494.5h0M194.1 541.8h0M258.7 503.2h0M243.1 523.5h0M202.6 491.4h0M222.5 509.8h0M235.3 533.8h0M256.3 492.8h0M199.7 546.1h0M246.4 483.5h0M224.5 524.8h0M240.4 529.1h0M199.6 492.4h0M253.2 497.0h0M219.4 529.0h0M201.6 489.1h0M239.4 550.3h0M230.0 509.6h0M262.0 529.1h0M190.8 485.9h0M224.9 515.0h0M219.7 548.9h0M187.3 503.8h0M231.2 503.6h0M203.8 543.0h0M237.2 529.6h0M227.6 518.8h0M239.1 508.1h0M214.4 553.5h0M241.7 514.0h0M215.7 514.0h0M240.1 480.8h0M246.9 507.9h0M258.3 512.0h0M203.7 484.9h0M242.1 505.5h0M262.3 532.9h0M188.1 497.2h0M234.5 507.5h0M221.1 526.0h0M201.7 546.4h0M227.7 546.4h0M188.5 527.9h0M239.3 497.4h0M198.5 543.9h0M255.4 503.3h0" stroke="#860d0d" stroke-width="1.7" stroke-linecap="round"/><rect x="257.1" y="551.7" width="6.2" height="2" fill="#e8e8e8"/></svg></body></html>
